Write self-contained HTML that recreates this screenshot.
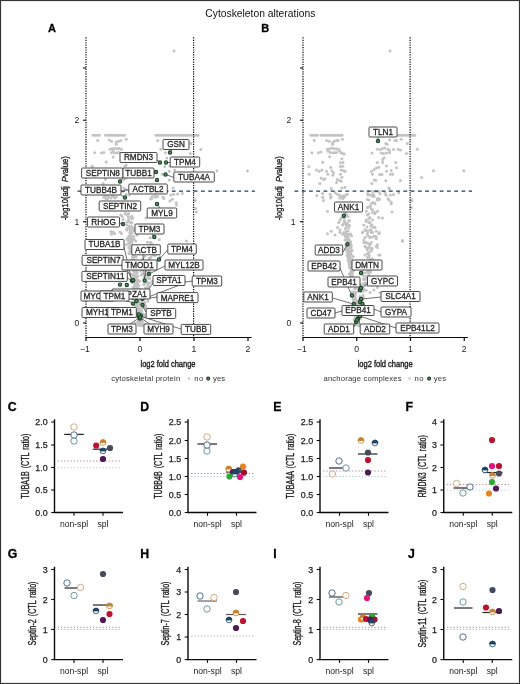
<!DOCTYPE html>
<html lang="en"><head><meta charset="utf-8"><title>Cytoskeleton alterations</title>
<style>
html,body{margin:0;padding:0;background:#fff;}
body{width:520px;height:684px;overflow:hidden;}
svg{display:block;font-family:'Liberation Sans', sans-serif;}
</style></head>
<body>
<svg width="520" height="684" viewBox="0 0 520 684">
<rect x="0" y="0" width="520" height="684" fill="#fff"/>
<text x="260.3" y="17.3" font-size="10.3" text-anchor="middle" font-weight="normal" fill="#111" textLength="110" lengthAdjust="spacingAndGlyphs">Cytoskeleton alterations</text>
<g fill="#c3c3c3"><circle cx="93.0" cy="135.3" r="1.5"/><circle cx="95.1" cy="135.3" r="1.5"/><circle cx="97.2" cy="135.3" r="1.5"/><circle cx="99.3" cy="135.3" r="1.5"/><circle cx="105.5" cy="135.3" r="1.5"/><circle cx="107.6" cy="135.3" r="1.5"/><circle cx="109.7" cy="135.3" r="1.5"/><circle cx="111.8" cy="135.3" r="1.5"/><circle cx="113.9" cy="135.3" r="1.5"/><circle cx="116.0" cy="135.3" r="1.5"/><circle cx="118.1" cy="135.3" r="1.5"/><circle cx="120.2" cy="135.3" r="1.5"/><circle cx="122.3" cy="135.3" r="1.5"/><circle cx="124.4" cy="135.3" r="1.5"/><circle cx="156.0" cy="135.3" r="1.5"/><circle cx="158.1" cy="135.3" r="1.5"/><circle cx="160.2" cy="135.3" r="1.5"/><circle cx="162.3" cy="135.3" r="1.5"/><circle cx="164.4" cy="135.3" r="1.5"/><circle cx="166.5" cy="135.3" r="1.5"/><circle cx="168.6" cy="135.3" r="1.5"/><circle cx="170.7" cy="135.3" r="1.5"/><circle cx="172.8" cy="135.3" r="1.5"/><circle cx="174.9" cy="135.3" r="1.5"/><circle cx="177.0" cy="135.3" r="1.5"/><circle cx="179.1" cy="135.3" r="1.5"/><circle cx="181.2" cy="135.3" r="1.5"/><circle cx="183.3" cy="135.3" r="1.5"/><circle cx="185.4" cy="135.3" r="1.5"/><circle cx="187.5" cy="135.3" r="1.5"/><circle cx="189.6" cy="135.3" r="1.5"/><circle cx="191.7" cy="135.3" r="1.5"/><circle cx="193.8" cy="135.3" r="1.5"/><circle cx="195.9" cy="135.3" r="1.5"/><circle cx="198.0" cy="135.3" r="1.5"/><circle cx="97.7" cy="140.4" r="1.5"/><circle cx="109.2" cy="139.9" r="1.5"/><circle cx="111.5" cy="141.2" r="1.5"/><circle cx="116.2" cy="141.9" r="1.5"/><circle cx="118.5" cy="141.2" r="1.5"/><circle cx="120.8" cy="140.4" r="1.5"/><circle cx="126.2" cy="139.2" r="1.5"/><circle cx="116.2" cy="144.2" r="1.5"/><circle cx="94.6" cy="152.7" r="1.5"/><circle cx="101.5" cy="153.0" r="1.5"/><circle cx="103.8" cy="152.4" r="1.5"/><circle cx="110.0" cy="149.3" r="1.5"/><circle cx="112.3" cy="148.8" r="1.5"/><circle cx="114.6" cy="148.4" r="1.5"/><circle cx="116.9" cy="148.8" r="1.5"/><circle cx="119.2" cy="148.4" r="1.5"/><circle cx="121.5" cy="149.3" r="1.5"/><circle cx="113.1" cy="151.2" r="1.5"/><circle cx="111.5" cy="152.7" r="1.5"/><circle cx="114.6" cy="153.0" r="1.5"/><circle cx="116.9" cy="152.7" r="1.5"/><circle cx="119.2" cy="152.4" r="1.5"/><circle cx="120.8" cy="153.5" r="1.5"/><circle cx="113.1" cy="157.0" r="1.5"/><circle cx="106.2" cy="161.9" r="1.5"/><circle cx="92.3" cy="166.2" r="1.5"/><circle cx="124.6" cy="166.2" r="1.5"/><circle cx="126.2" cy="165.0" r="1.5"/><circle cx="105.4" cy="179.2" r="1.5"/><circle cx="103.1" cy="183.5" r="1.5"/><circle cx="123.8" cy="179.6" r="1.5"/><circle cx="126.2" cy="178.1" r="1.5"/><circle cx="123.8" cy="188.1" r="1.5"/><circle cx="123.1" cy="191.2" r="1.5"/><circle cx="126.2" cy="189.6" r="1.5"/><circle cx="105.4" cy="196.5" r="1.5"/><circle cx="107.7" cy="198.5" r="1.5"/><circle cx="112.3" cy="196.5" r="1.5"/><circle cx="116.2" cy="197.3" r="1.5"/><circle cx="126.2" cy="194.2" r="1.5"/><circle cx="129.2" cy="195.0" r="1.5"/><circle cx="150.8" cy="198.8" r="1.5"/><circle cx="155.4" cy="197.3" r="1.5"/><circle cx="157.7" cy="140.4" r="1.5"/><circle cx="190.8" cy="143.5" r="1.5"/><circle cx="160.8" cy="149.3" r="1.5"/><circle cx="165.4" cy="152.7" r="1.5"/><circle cx="200.8" cy="149.6" r="1.5"/><circle cx="190.3" cy="153.5" r="1.5"/><circle cx="166.9" cy="158.1" r="1.5"/><circle cx="164.6" cy="166.5" r="1.5"/><circle cx="170.0" cy="166.2" r="1.5"/><circle cx="174.6" cy="169.9" r="1.5"/><circle cx="169.2" cy="171.2" r="1.5"/><circle cx="216.9" cy="170.7" r="1.5"/><circle cx="162.3" cy="174.2" r="1.5"/><circle cx="169.2" cy="180.1" r="1.5"/><circle cx="173.1" cy="188.1" r="1.5"/><circle cx="170.8" cy="195.0" r="1.5"/><circle cx="173.8" cy="194.2" r="1.5"/><circle cx="177.7" cy="193.9" r="1.5"/><circle cx="182.3" cy="193.5" r="1.5"/><circle cx="151.5" cy="198.8" r="1.5"/><circle cx="157.7" cy="196.5" r="1.5"/><circle cx="163.8" cy="198.5" r="1.5"/><circle cx="172.3" cy="199.2" r="1.5"/><circle cx="176.2" cy="202.7" r="1.5"/><circle cx="195.4" cy="200.4" r="1.5"/><circle cx="103.8" cy="197.3" r="1.5"/><circle cx="106.2" cy="198.8" r="1.5"/><circle cx="108.5" cy="196.5" r="1.5"/><circle cx="110.8" cy="198.1" r="1.5"/><circle cx="113.1" cy="195.8" r="1.5"/><circle cx="114.6" cy="198.1" r="1.5"/><circle cx="150.8" cy="198.8" r="1.5"/><circle cx="152.3" cy="196.5" r="1.5"/><circle cx="155.4" cy="195.8" r="1.5"/><circle cx="113.1" cy="231.9" r="1.5"/><circle cx="114.6" cy="233.5" r="1.5"/><circle cx="111.5" cy="234.2" r="1.5"/><circle cx="110.8" cy="231.6" r="1.5"/><circle cx="120.8" cy="215.0" r="1.5"/><circle cx="122.3" cy="216.5" r="1.5"/><circle cx="126.2" cy="214.2" r="1.5"/><circle cx="123.1" cy="219.6" r="1.5"/><circle cx="120.0" cy="231.9" r="1.5"/><circle cx="121.5" cy="233.5" r="1.5"/><circle cx="174.0" cy="51.0" r="1.5"/><circle cx="195.5" cy="208.5" r="1.5"/><circle cx="196.5" cy="212.0" r="1.5"/><circle cx="186.5" cy="241.0" r="1.5"/><circle cx="247.5" cy="171.0" r="1.5"/><circle cx="176.5" cy="205.0" r="1.5"/><circle cx="170.0" cy="201.0" r="1.5"/><circle cx="163.0" cy="197.0" r="1.5"/><circle cx="150.0" cy="210.0" r="1.5"/><circle cx="146.0" cy="218.0" r="1.5"/><circle cx="135.0" cy="260.9" r="1.5"/><circle cx="132.8" cy="227.9" r="1.5"/><circle cx="135.3" cy="283.4" r="1.5"/><circle cx="135.9" cy="280.5" r="1.5"/><circle cx="128.1" cy="221.7" r="1.5"/><circle cx="130.4" cy="230.8" r="1.5"/><circle cx="134.9" cy="272.0" r="1.5"/><circle cx="131.0" cy="249.0" r="1.5"/><circle cx="138.6" cy="292.4" r="1.5"/><circle cx="133.4" cy="269.0" r="1.5"/><circle cx="142.1" cy="324.0" r="1.5"/><circle cx="134.1" cy="257.0" r="1.5"/><circle cx="132.4" cy="238.7" r="1.5"/><circle cx="139.3" cy="309.9" r="1.5"/><circle cx="128.5" cy="243.6" r="1.5"/><circle cx="132.5" cy="266.3" r="1.5"/><circle cx="136.4" cy="284.6" r="1.5"/><circle cx="132.1" cy="246.9" r="1.5"/><circle cx="136.1" cy="297.4" r="1.5"/><circle cx="136.9" cy="288.3" r="1.5"/><circle cx="133.8" cy="275.0" r="1.5"/><circle cx="139.8" cy="299.1" r="1.5"/><circle cx="129.9" cy="251.6" r="1.5"/><circle cx="138.5" cy="315.1" r="1.5"/><circle cx="136.8" cy="302.0" r="1.5"/><circle cx="137.2" cy="235.0" r="1.5"/><circle cx="134.5" cy="271.3" r="1.5"/><circle cx="134.2" cy="278.7" r="1.5"/><circle cx="126.9" cy="222.0" r="1.5"/><circle cx="133.7" cy="287.1" r="1.5"/><circle cx="138.5" cy="315.2" r="1.5"/><circle cx="138.6" cy="289.2" r="1.5"/><circle cx="133.2" cy="287.8" r="1.5"/><circle cx="140.4" cy="321.2" r="1.5"/><circle cx="134.7" cy="277.1" r="1.5"/><circle cx="137.0" cy="299.4" r="1.5"/><circle cx="139.7" cy="294.3" r="1.5"/><circle cx="132.6" cy="256.4" r="1.5"/><circle cx="133.8" cy="267.8" r="1.5"/><circle cx="134.6" cy="275.9" r="1.5"/><circle cx="131.8" cy="241.9" r="1.5"/><circle cx="138.4" cy="305.5" r="1.5"/><circle cx="130.7" cy="236.6" r="1.5"/><circle cx="140.3" cy="314.8" r="1.5"/><circle cx="126.8" cy="229.2" r="1.5"/><circle cx="139.7" cy="315.9" r="1.5"/><circle cx="139.3" cy="310.2" r="1.5"/><circle cx="133.2" cy="271.0" r="1.5"/><circle cx="137.4" cy="264.8" r="1.5"/><circle cx="127.0" cy="239.6" r="1.5"/><circle cx="131.6" cy="243.0" r="1.5"/><circle cx="136.4" cy="278.3" r="1.5"/><circle cx="136.3" cy="288.7" r="1.5"/><circle cx="134.6" cy="271.4" r="1.5"/><circle cx="129.4" cy="266.0" r="1.5"/><circle cx="135.9" cy="298.4" r="1.5"/><circle cx="133.6" cy="281.4" r="1.5"/><circle cx="126.7" cy="224.8" r="1.5"/><circle cx="139.8" cy="317.3" r="1.5"/><circle cx="135.8" cy="308.2" r="1.5"/><circle cx="133.4" cy="268.5" r="1.5"/><circle cx="137.2" cy="293.0" r="1.5"/><circle cx="131.2" cy="226.2" r="1.5"/><circle cx="131.8" cy="241.2" r="1.5"/><circle cx="133.5" cy="262.8" r="1.5"/><circle cx="131.0" cy="239.7" r="1.5"/><circle cx="129.9" cy="232.5" r="1.5"/><circle cx="139.3" cy="315.1" r="1.5"/><circle cx="137.3" cy="291.1" r="1.5"/><circle cx="134.8" cy="263.6" r="1.5"/><circle cx="136.5" cy="265.4" r="1.5"/><circle cx="141.6" cy="325.4" r="1.5"/><circle cx="134.2" cy="276.3" r="1.5"/><circle cx="130.3" cy="232.6" r="1.5"/><circle cx="133.2" cy="263.1" r="1.5"/><circle cx="135.6" cy="241.0" r="1.5"/><circle cx="131.9" cy="218.8" r="1.5"/><circle cx="130.0" cy="239.0" r="1.5"/><circle cx="137.8" cy="284.1" r="1.5"/><circle cx="140.3" cy="324.2" r="1.5"/><circle cx="138.7" cy="314.1" r="1.5"/><circle cx="132.4" cy="265.7" r="1.5"/><circle cx="131.6" cy="241.8" r="1.5"/><circle cx="136.6" cy="306.5" r="1.5"/><circle cx="134.0" cy="261.6" r="1.5"/><circle cx="142.0" cy="324.7" r="1.5"/><circle cx="139.7" cy="313.2" r="1.5"/><circle cx="135.5" cy="302.9" r="1.5"/><circle cx="130.0" cy="249.5" r="1.5"/><circle cx="128.6" cy="220.0" r="1.5"/><circle cx="128.5" cy="219.8" r="1.5"/><circle cx="138.5" cy="298.5" r="1.5"/><circle cx="137.6" cy="322.3" r="1.5"/><circle cx="141.0" cy="325.0" r="1.5"/><circle cx="139.4" cy="322.1" r="1.5"/><circle cx="133.2" cy="249.5" r="1.5"/><circle cx="132.6" cy="245.7" r="1.5"/><circle cx="140.9" cy="317.4" r="1.5"/><circle cx="137.1" cy="312.1" r="1.5"/><circle cx="138.7" cy="308.4" r="1.5"/><circle cx="127.0" cy="229.9" r="1.5"/><circle cx="135.8" cy="306.8" r="1.5"/><circle cx="137.1" cy="303.9" r="1.5"/><circle cx="138.4" cy="307.4" r="1.5"/><circle cx="135.1" cy="261.9" r="1.5"/><circle cx="129.3" cy="268.9" r="1.5"/><circle cx="137.1" cy="269.5" r="1.5"/><circle cx="130.0" cy="242.2" r="1.5"/><circle cx="133.7" cy="236.3" r="1.5"/><circle cx="140.7" cy="309.0" r="1.5"/><circle cx="134.0" cy="238.9" r="1.5"/><circle cx="133.3" cy="295.2" r="1.5"/><circle cx="132.6" cy="263.9" r="1.5"/><circle cx="128.1" cy="216.7" r="1.5"/><circle cx="139.3" cy="323.5" r="1.5"/><circle cx="138.6" cy="320.3" r="1.5"/><circle cx="137.0" cy="272.9" r="1.5"/><circle cx="128.8" cy="247.5" r="1.5"/><circle cx="132.0" cy="252.5" r="1.5"/><circle cx="137.4" cy="288.4" r="1.5"/><circle cx="131.5" cy="253.4" r="1.5"/><circle cx="139.8" cy="318.2" r="1.5"/><circle cx="131.1" cy="264.3" r="1.5"/><circle cx="139.8" cy="317.7" r="1.5"/><circle cx="136.4" cy="271.5" r="1.5"/><circle cx="134.7" cy="283.0" r="1.5"/><circle cx="137.4" cy="282.2" r="1.5"/><circle cx="131.8" cy="243.9" r="1.5"/><circle cx="128.7" cy="213.8" r="1.5"/><circle cx="134.0" cy="277.1" r="1.5"/><circle cx="136.5" cy="301.6" r="1.5"/><circle cx="135.0" cy="281.6" r="1.5"/><circle cx="136.1" cy="285.3" r="1.5"/><circle cx="135.2" cy="285.8" r="1.5"/><circle cx="131.7" cy="252.1" r="1.5"/><circle cx="138.3" cy="280.6" r="1.5"/><circle cx="136.2" cy="286.0" r="1.5"/><circle cx="130.7" cy="273.9" r="1.5"/><circle cx="134.7" cy="290.9" r="1.5"/><circle cx="137.3" cy="298.6" r="1.5"/><circle cx="132.8" cy="274.9" r="1.5"/><circle cx="139.5" cy="321.0" r="1.5"/><circle cx="139.9" cy="299.2" r="1.5"/><circle cx="128.9" cy="253.5" r="1.5"/><circle cx="138.9" cy="285.8" r="1.5"/><circle cx="129.2" cy="237.7" r="1.5"/><circle cx="129.7" cy="235.5" r="1.5"/><circle cx="132.5" cy="251.2" r="1.5"/><circle cx="127.6" cy="228.0" r="1.5"/><circle cx="137.6" cy="317.1" r="1.5"/><circle cx="130.3" cy="240.1" r="1.5"/><circle cx="127.4" cy="238.5" r="1.5"/><circle cx="140.0" cy="315.8" r="1.5"/><circle cx="139.7" cy="321.9" r="1.5"/><circle cx="128.4" cy="269.2" r="1.5"/><circle cx="139.0" cy="311.4" r="1.5"/><circle cx="128.6" cy="241.0" r="1.5"/><circle cx="134.5" cy="262.7" r="1.5"/><circle cx="130.1" cy="245.5" r="1.5"/><circle cx="132.6" cy="217.9" r="1.5"/><circle cx="135.6" cy="285.2" r="1.5"/><circle cx="133.5" cy="261.8" r="1.5"/><circle cx="136.1" cy="292.0" r="1.5"/><circle cx="140.2" cy="324.7" r="1.5"/><circle cx="138.9" cy="307.4" r="1.5"/><circle cx="132.4" cy="254.2" r="1.5"/><circle cx="129.5" cy="222.1" r="1.5"/><circle cx="128.8" cy="236.6" r="1.5"/><circle cx="137.4" cy="271.7" r="1.5"/><circle cx="130.4" cy="253.3" r="1.5"/><circle cx="133.7" cy="239.4" r="1.5"/><circle cx="136.5" cy="299.3" r="1.5"/><circle cx="133.6" cy="230.6" r="1.5"/><circle cx="135.5" cy="272.0" r="1.5"/><circle cx="133.1" cy="227.9" r="1.5"/><circle cx="137.8" cy="308.6" r="1.5"/><circle cx="130.5" cy="229.7" r="1.5"/><circle cx="138.7" cy="314.1" r="1.5"/><circle cx="133.6" cy="275.0" r="1.5"/><circle cx="140.8" cy="319.7" r="1.5"/><circle cx="134.4" cy="254.4" r="1.5"/><circle cx="134.2" cy="250.9" r="1.5"/><circle cx="130.8" cy="233.7" r="1.5"/><circle cx="132.3" cy="246.3" r="1.5"/><circle cx="132.0" cy="259.6" r="1.5"/><circle cx="136.2" cy="257.0" r="1.5"/><circle cx="136.0" cy="279.8" r="1.5"/><circle cx="130.9" cy="217.6" r="1.5"/><circle cx="135.9" cy="252.4" r="1.5"/><circle cx="136.1" cy="284.9" r="1.5"/><circle cx="126.2" cy="244.7" r="1.5"/><circle cx="131.2" cy="233.2" r="1.5"/><circle cx="137.3" cy="310.1" r="1.5"/><circle cx="139.4" cy="311.5" r="1.5"/><circle cx="131.2" cy="268.6" r="1.5"/><circle cx="140.1" cy="324.5" r="1.5"/><circle cx="135.1" cy="263.1" r="1.5"/><circle cx="134.7" cy="293.2" r="1.5"/><circle cx="133.9" cy="269.8" r="1.5"/><circle cx="131.3" cy="236.7" r="1.5"/><circle cx="129.6" cy="227.6" r="1.5"/><circle cx="129.4" cy="241.3" r="1.5"/><circle cx="132.7" cy="229.9" r="1.5"/><circle cx="134.6" cy="296.5" r="1.5"/><circle cx="132.9" cy="256.1" r="1.5"/><circle cx="136.4" cy="275.6" r="1.5"/><circle cx="129.3" cy="240.5" r="1.5"/><circle cx="140.2" cy="322.7" r="1.5"/><circle cx="139.3" cy="323.7" r="1.5"/><circle cx="139.8" cy="323.1" r="1.5"/><circle cx="133.1" cy="259.3" r="1.5"/><circle cx="134.1" cy="267.4" r="1.5"/><circle cx="133.9" cy="277.2" r="1.5"/><circle cx="135.4" cy="280.3" r="1.5"/><circle cx="128.1" cy="214.1" r="1.5"/><circle cx="135.0" cy="269.3" r="1.5"/><circle cx="131.4" cy="222.5" r="1.5"/><circle cx="132.4" cy="250.2" r="1.5"/><circle cx="133.6" cy="288.3" r="1.5"/><circle cx="136.5" cy="295.2" r="1.5"/><circle cx="138.6" cy="300.7" r="1.5"/><circle cx="131.9" cy="261.2" r="1.5"/><circle cx="141.2" cy="324.7" r="1.5"/><circle cx="138.8" cy="293.9" r="1.5"/><circle cx="132.0" cy="222.9" r="1.5"/><circle cx="133.9" cy="292.4" r="1.5"/><circle cx="138.1" cy="302.4" r="1.5"/><circle cx="134.7" cy="282.2" r="1.5"/><circle cx="137.0" cy="280.2" r="1.5"/><circle cx="136.7" cy="310.8" r="1.5"/><circle cx="138.1" cy="288.2" r="1.5"/><circle cx="136.0" cy="298.6" r="1.5"/><circle cx="133.3" cy="249.9" r="1.5"/><circle cx="133.9" cy="265.1" r="1.5"/><circle cx="131.9" cy="233.0" r="1.5"/><circle cx="135.0" cy="292.4" r="1.5"/><circle cx="135.9" cy="292.3" r="1.5"/><circle cx="125.2" cy="213.6" r="1.5"/><circle cx="138.4" cy="308.2" r="1.5"/><circle cx="133.7" cy="283.3" r="1.5"/><circle cx="139.2" cy="295.4" r="1.5"/><circle cx="133.8" cy="252.6" r="1.5"/><circle cx="129.4" cy="228.2" r="1.5"/><circle cx="135.4" cy="246.8" r="1.5"/><circle cx="139.4" cy="302.9" r="1.5"/><circle cx="133.7" cy="267.5" r="1.5"/><circle cx="133.9" cy="277.6" r="1.5"/><circle cx="134.2" cy="291.4" r="1.5"/><circle cx="137.6" cy="293.8" r="1.5"/><circle cx="133.0" cy="252.8" r="1.5"/><circle cx="137.3" cy="303.3" r="1.5"/><circle cx="131.8" cy="216.3" r="1.5"/><circle cx="129.1" cy="225.9" r="1.5"/><circle cx="139.5" cy="298.5" r="1.5"/><circle cx="136.7" cy="297.0" r="1.5"/><circle cx="137.0" cy="276.2" r="1.5"/><circle cx="137.8" cy="276.3" r="1.5"/><circle cx="135.0" cy="246.0" r="1.5"/><circle cx="140.3" cy="324.1" r="1.5"/><circle cx="134.7" cy="275.6" r="1.5"/><circle cx="143.2" cy="314.3" r="1.5"/><circle cx="148.1" cy="271.9" r="1.5"/><circle cx="151.7" cy="266.2" r="1.5"/><circle cx="143.8" cy="297.6" r="1.5"/><circle cx="142.8" cy="258.9" r="1.5"/><circle cx="149.8" cy="257.9" r="1.5"/><circle cx="138.0" cy="314.3" r="1.5"/><circle cx="142.6" cy="306.3" r="1.5"/><circle cx="152.1" cy="268.3" r="1.5"/><circle cx="151.0" cy="242.8" r="1.5"/><circle cx="150.2" cy="237.7" r="1.5"/><circle cx="148.3" cy="274.9" r="1.5"/><circle cx="149.3" cy="258.8" r="1.5"/><circle cx="142.4" cy="315.7" r="1.5"/><circle cx="154.6" cy="237.1" r="1.5"/><circle cx="144.8" cy="256.4" r="1.5"/><circle cx="139.6" cy="321.3" r="1.5"/><circle cx="142.4" cy="273.8" r="1.5"/><circle cx="139.5" cy="281.1" r="1.5"/><circle cx="149.1" cy="298.1" r="1.5"/><circle cx="145.4" cy="280.1" r="1.5"/><circle cx="154.2" cy="246.8" r="1.5"/><circle cx="153.1" cy="254.2" r="1.5"/><circle cx="139.2" cy="321.9" r="1.5"/><circle cx="148.7" cy="270.0" r="1.5"/><circle cx="153.8" cy="264.1" r="1.5"/><circle cx="152.4" cy="281.2" r="1.5"/><circle cx="140.6" cy="313.8" r="1.5"/><circle cx="147.9" cy="301.2" r="1.5"/><circle cx="142.0" cy="295.2" r="1.5"/><circle cx="145.5" cy="307.5" r="1.5"/><circle cx="147.2" cy="287.5" r="1.5"/><circle cx="141.3" cy="309.8" r="1.5"/><circle cx="150.6" cy="246.9" r="1.5"/><circle cx="141.4" cy="321.3" r="1.5"/><circle cx="149.8" cy="278.6" r="1.5"/><circle cx="147.7" cy="274.5" r="1.5"/><circle cx="140.8" cy="271.1" r="1.5"/><circle cx="142.6" cy="303.0" r="1.5"/><circle cx="150.0" cy="282.9" r="1.5"/><circle cx="151.6" cy="261.7" r="1.5"/><circle cx="141.4" cy="320.0" r="1.5"/><circle cx="146.4" cy="291.2" r="1.5"/><circle cx="142.3" cy="325.8" r="1.5"/><circle cx="147.1" cy="287.5" r="1.5"/><circle cx="153.7" cy="252.8" r="1.5"/><circle cx="149.3" cy="278.5" r="1.5"/><circle cx="150.0" cy="270.9" r="1.5"/><circle cx="147.2" cy="296.7" r="1.5"/><circle cx="143.8" cy="284.4" r="1.5"/><circle cx="144.1" cy="284.5" r="1.5"/><circle cx="147.2" cy="278.1" r="1.5"/><circle cx="151.0" cy="248.9" r="1.5"/><circle cx="159.9" cy="257.1" r="1.5"/><circle cx="142.1" cy="291.7" r="1.5"/><circle cx="145.1" cy="266.8" r="1.5"/><circle cx="148.7" cy="272.1" r="1.5"/><circle cx="148.6" cy="287.1" r="1.5"/><circle cx="141.6" cy="323.1" r="1.5"/><circle cx="147.4" cy="242.2" r="1.5"/><circle cx="151.4" cy="244.1" r="1.5"/><circle cx="140.8" cy="289.3" r="1.5"/><circle cx="146.4" cy="298.0" r="1.5"/><circle cx="140.3" cy="321.3" r="1.5"/><circle cx="144.1" cy="314.7" r="1.5"/><circle cx="142.7" cy="270.0" r="1.5"/><circle cx="153.9" cy="255.1" r="1.5"/><circle cx="145.0" cy="304.9" r="1.5"/><circle cx="139.8" cy="322.3" r="1.5"/><circle cx="139.6" cy="310.6" r="1.5"/><circle cx="145.3" cy="288.0" r="1.5"/><circle cx="141.8" cy="311.8" r="1.5"/><circle cx="153.1" cy="268.4" r="1.5"/><circle cx="146.2" cy="275.1" r="1.5"/><circle cx="151.1" cy="257.3" r="1.5"/><circle cx="145.6" cy="306.0" r="1.5"/><circle cx="155.2" cy="255.5" r="1.5"/><circle cx="145.4" cy="297.7" r="1.5"/><circle cx="147.5" cy="282.4" r="1.5"/><circle cx="159.4" cy="239.7" r="1.5"/><circle cx="141.2" cy="274.9" r="1.5"/><circle cx="144.8" cy="302.2" r="1.5"/><circle cx="139.7" cy="318.5" r="1.5"/><circle cx="149.4" cy="269.8" r="1.5"/><circle cx="139.6" cy="323.5" r="1.5"/><circle cx="150.6" cy="242.2" r="1.5"/><circle cx="144.3" cy="291.3" r="1.5"/><circle cx="146.1" cy="270.8" r="1.5"/><circle cx="144.5" cy="303.8" r="1.5"/><circle cx="152.1" cy="244.5" r="1.5"/><circle cx="144.0" cy="278.1" r="1.5"/><circle cx="152.1" cy="265.0" r="1.5"/><circle cx="141.6" cy="312.8" r="1.5"/><circle cx="146.1" cy="265.7" r="1.5"/><circle cx="138.9" cy="324.1" r="1.5"/><circle cx="154.5" cy="268.2" r="1.5"/><circle cx="149.6" cy="267.3" r="1.5"/><circle cx="138.8" cy="322.9" r="1.5"/><circle cx="146.1" cy="291.1" r="1.5"/><circle cx="148.2" cy="284.8" r="1.5"/><circle cx="144.3" cy="303.7" r="1.5"/><circle cx="146.4" cy="282.8" r="1.5"/><circle cx="151.3" cy="266.5" r="1.5"/><circle cx="152.5" cy="247.3" r="1.5"/><circle cx="146.6" cy="248.6" r="1.5"/><circle cx="142.8" cy="318.5" r="1.5"/><circle cx="146.7" cy="308.4" r="1.5"/><circle cx="147.7" cy="277.4" r="1.5"/><circle cx="154.9" cy="263.7" r="1.5"/><circle cx="151.0" cy="244.1" r="1.5"/><circle cx="137.9" cy="313.9" r="1.5"/><circle cx="142.0" cy="301.9" r="1.5"/><circle cx="142.4" cy="296.1" r="1.5"/><circle cx="140.0" cy="302.7" r="1.5"/><circle cx="145.5" cy="324.4" r="1.5"/><circle cx="145.4" cy="297.5" r="1.5"/><circle cx="142.4" cy="302.8" r="1.5"/><circle cx="135.0" cy="305.6" r="1.5"/><circle cx="137.1" cy="291.8" r="1.5"/><circle cx="140.5" cy="323.1" r="1.5"/><circle cx="135.8" cy="296.9" r="1.5"/><circle cx="144.8" cy="291.1" r="1.5"/><circle cx="141.9" cy="304.8" r="1.5"/><circle cx="135.3" cy="291.5" r="1.5"/><circle cx="146.2" cy="291.3" r="1.5"/><circle cx="142.6" cy="299.3" r="1.5"/><circle cx="142.2" cy="316.9" r="1.5"/><circle cx="138.4" cy="299.8" r="1.5"/><circle cx="138.3" cy="324.5" r="1.5"/><circle cx="138.4" cy="315.8" r="1.5"/><circle cx="140.0" cy="301.4" r="1.5"/><circle cx="140.3" cy="317.2" r="1.5"/><circle cx="135.2" cy="323.0" r="1.5"/><circle cx="134.6" cy="290.9" r="1.5"/><circle cx="132.6" cy="298.4" r="1.5"/><circle cx="141.2" cy="324.3" r="1.5"/><circle cx="140.0" cy="303.9" r="1.5"/><circle cx="143.2" cy="307.8" r="1.5"/><circle cx="142.2" cy="323.4" r="1.5"/><circle cx="144.9" cy="316.6" r="1.5"/><circle cx="140.6" cy="319.6" r="1.5"/><circle cx="135.9" cy="301.8" r="1.5"/><circle cx="136.6" cy="301.5" r="1.5"/><circle cx="144.0" cy="292.8" r="1.5"/><circle cx="140.0" cy="297.1" r="1.5"/><circle cx="137.7" cy="292.3" r="1.5"/><circle cx="137.5" cy="291.2" r="1.5"/><circle cx="139.1" cy="325.3" r="1.5"/><circle cx="142.3" cy="321.8" r="1.5"/><circle cx="139.8" cy="293.0" r="1.5"/></g>
<line x1="86" y1="37.3" x2="86" y2="337.5" stroke="#000" stroke-width="1.2" stroke-dasharray="1.2 1.22"/>
<line x1="193.6" y1="37.3" x2="193.6" y2="337.5" stroke="#000" stroke-width="1.2" stroke-dasharray="1.2 1.22"/>
<line x1="77.5" y1="191.1" x2="255" y2="191.1" stroke="#1b3a68" stroke-width="1.4" stroke-dasharray="3.8 3.46"/>
<line x1="85.4" y1="337.5" x2="251.5" y2="337.5" stroke="#0a0a0a" stroke-width="1.2"/>
<line x1="86" y1="337.5" x2="86" y2="341" stroke="#0a0a0a" stroke-width="1.2"/>
<text x="84.8" y="352.2" font-size="8.6" text-anchor="middle" font-weight="normal" fill="#1c1c1c">−1</text>
<line x1="140" y1="337.5" x2="140" y2="341" stroke="#0a0a0a" stroke-width="1.2"/>
<text x="140" y="352.2" font-size="8.6" text-anchor="middle" font-weight="normal" fill="#1c1c1c">0</text>
<line x1="194" y1="337.5" x2="194" y2="341" stroke="#0a0a0a" stroke-width="1.2"/>
<text x="194" y="352.2" font-size="8.6" text-anchor="middle" font-weight="normal" fill="#1c1c1c">1</text>
<line x1="248" y1="337.5" x2="248" y2="341" stroke="#0a0a0a" stroke-width="1.2"/>
<text x="248" y="352.2" font-size="8.6" text-anchor="middle" font-weight="normal" fill="#1c1c1c">2</text>
<line x1="83" y1="323" x2="86" y2="323" stroke="#0a0a0a" stroke-width="1.1"/>
<text x="79.2" y="326.1" font-size="8.6" text-anchor="end" font-weight="normal" fill="#1c1c1c">0</text>
<line x1="83" y1="221.7" x2="86" y2="221.7" stroke="#0a0a0a" stroke-width="1.1"/>
<text x="79.2" y="224.79999999999998" font-size="8.6" text-anchor="end" font-weight="normal" fill="#1c1c1c">1</text>
<line x1="83" y1="120.2" x2="86" y2="120.2" stroke="#0a0a0a" stroke-width="1.1"/>
<text x="79.2" y="123.3" font-size="8.6" text-anchor="end" font-weight="normal" fill="#1c1c1c">2</text>
<line x1="83" y1="68" x2="86" y2="68" stroke="#0a0a0a" stroke-width="1.1"/>
<text x="168" y="366.8" font-size="9.6" text-anchor="middle" font-weight="normal" fill="#1c1c1c" textLength="55" lengthAdjust="spacingAndGlyphs" stroke="#1c1c1c" stroke-width="0.4">log2 fold change</text>
<text transform="translate(68 188.2) rotate(-90)" font-size="9.4" text-anchor="middle" fill="#1c1c1c" stroke="#1c1c1c" stroke-width="0.35" textLength="64" lengthAdjust="spacingAndGlyphs">-log10(adj <tspan font-style="italic" dx="2.5">P</tspan>value)</text>
<path d="M167.5 250.0L159.0 259.5M165.0 266.0L149.0 274.0M124.0 247.0L131.5 279.5M123.0 262.0L132.5 280.5M143.0 255.0L144.5 280.5M146.0 270.0L144.5 280.0M127.0 278.0L133.0 281.0M153.0 283.0L142.5 298.5M192.5 281.0L185.0 282.0M185.0 283.0L143.0 299.0M157.0 297.0L143.0 299.0M146.0 312.0L142.5 305.5M181.0 329.0L141.5 316.5M150.0 324.0L140.5 318.0M130.0 324.0L139.0 318.0M129.0 298.0L136.0 301.0M136.0 311.0L139.0 316.0M113.0 297.0L134.0 303.0M174.0 177.5L165.5 174.5M170.0 152.5L172.0 149.5M123.0 178.0L120.0 181.5M121.0 195.0L125.0 197.5M157.0 204.0L160.0 208.0M119.5 223.0L123.0 224.0M154.0 237.0L152.0 234.0M170.0 162.5L166.0 162.5M157.0 160.0L160.0 162.5M154.0 173.0L156.0 172.0M129.0 190.0L124.0 190.0" stroke="#333" stroke-width="0.7" fill="none"/>
<g fill="#5a9f6b" stroke="#1d4028" stroke-width="1.2"><circle cx="170.0" cy="152.5" r="1.6"/><circle cx="160.0" cy="162.5" r="1.6"/><circle cx="166.0" cy="162.5" r="1.6"/><circle cx="156.0" cy="172.0" r="1.6"/><circle cx="165.5" cy="174.5" r="1.6"/><circle cx="120.0" cy="181.5" r="1.6"/><circle cx="157.0" cy="180.0" r="1.6"/><circle cx="125.0" cy="197.5" r="1.6"/><circle cx="157.0" cy="204.0" r="1.6"/><circle cx="123.0" cy="224.0" r="1.6"/><circle cx="154.3" cy="237.0" r="1.6"/><circle cx="159.0" cy="259.5" r="1.6"/><circle cx="149.0" cy="274.0" r="1.6"/><circle cx="132.0" cy="280.8" r="1.6"/><circle cx="133.2" cy="280.2" r="1.6"/><circle cx="144.6" cy="280.6" r="1.6"/><circle cx="120.0" cy="284.6" r="1.6"/><circle cx="126.8" cy="285.0" r="1.6"/><circle cx="142.5" cy="298.8" r="1.6"/><circle cx="136.5" cy="301.0" r="1.6"/><circle cx="133.0" cy="303.6" r="1.6"/><circle cx="142.5" cy="305.0" r="1.6"/><circle cx="138.6" cy="316.6" r="1.6"/><circle cx="140.9" cy="315.6" r="1.6"/><circle cx="139.8" cy="318.6" r="1.6"/><circle cx="140.0" cy="317.2" r="1.6"/><circle cx="138.8" cy="314.5" r="1.6"/></g>
<rect x="120.0" y="152.5" width="37.0" height="10" rx="1" ry="1" fill="#fff" stroke="#2c2c2c" stroke-width="0.85"/>
<text x="138.5" y="160.4" font-size="8.2" text-anchor="middle" fill="#1e1e1e" stroke="#1e1e1e" stroke-width="0.28">RMDN3</text>
<rect x="81.6" y="168.0" width="41.4" height="10" rx="1" ry="1" fill="#fff" stroke="#2c2c2c" stroke-width="0.85"/>
<text x="102.8" y="175.9" font-size="8.2" text-anchor="middle" fill="#1e1e1e" stroke="#1e1e1e" stroke-width="0.28">SEPTIN8</text>
<rect x="123.0" y="168.0" width="31.0" height="10" rx="1" ry="1" fill="#fff" stroke="#2c2c2c" stroke-width="0.85"/>
<text x="138.5" y="175.9" font-size="8.2" text-anchor="middle" fill="#1e1e1e" stroke="#1e1e1e" stroke-width="0.28">TUBB1</text>
<rect x="81.0" y="185.0" width="40.0" height="10" rx="1" ry="1" fill="#fff" stroke="#2c2c2c" stroke-width="0.85"/>
<text x="101.0" y="192.9" font-size="8.2" text-anchor="middle" fill="#1e1e1e" stroke="#1e1e1e" stroke-width="0.28">TUBB4B</text>
<rect x="128.8" y="184.0" width="38.5" height="10" rx="1" ry="1" fill="#fff" stroke="#2c2c2c" stroke-width="0.85"/>
<text x="148.0" y="191.9" font-size="8.2" text-anchor="middle" fill="#1e1e1e" stroke="#1e1e1e" stroke-width="0.28">ACTBL2</text>
<rect x="99.2" y="201.0" width="41.5" height="10" rx="1" ry="1" fill="#fff" stroke="#2c2c2c" stroke-width="0.85"/>
<text x="120.0" y="208.9" font-size="8.2" text-anchor="middle" fill="#1e1e1e" stroke="#1e1e1e" stroke-width="0.28">SEPTIN2</text>
<rect x="147.2" y="208.0" width="29.5" height="10" rx="1" ry="1" fill="#fff" stroke="#2c2c2c" stroke-width="0.85"/>
<text x="162.0" y="215.9" font-size="8.2" text-anchor="middle" fill="#1e1e1e" stroke="#1e1e1e" stroke-width="0.28">MYL9</text>
<rect x="87.5" y="217.0" width="32.0" height="10" rx="1" ry="1" fill="#fff" stroke="#2c2c2c" stroke-width="0.85"/>
<text x="103.5" y="224.9" font-size="8.2" text-anchor="middle" fill="#1e1e1e" stroke="#1e1e1e" stroke-width="0.28">RHOG</text>
<rect x="135.0" y="224.0" width="29.0" height="10" rx="1" ry="1" fill="#fff" stroke="#2c2c2c" stroke-width="0.85"/>
<text x="149.5" y="231.9" font-size="8.2" text-anchor="middle" fill="#1e1e1e" stroke="#1e1e1e" stroke-width="0.28">TPM3</text>
<rect x="163.0" y="139.5" width="26.0" height="10" rx="1" ry="1" fill="#fff" stroke="#2c2c2c" stroke-width="0.85"/>
<text x="176.0" y="147.4" font-size="8.2" text-anchor="middle" fill="#1e1e1e" stroke="#1e1e1e" stroke-width="0.28">GSN</text>
<rect x="170.2" y="157.0" width="29.5" height="10" rx="1" ry="1" fill="#fff" stroke="#2c2c2c" stroke-width="0.85"/>
<text x="185.0" y="164.9" font-size="8.2" text-anchor="middle" fill="#1e1e1e" stroke="#1e1e1e" stroke-width="0.28">TPM4</text>
<rect x="173.8" y="172.0" width="40.5" height="10" rx="1" ry="1" fill="#fff" stroke="#2c2c2c" stroke-width="0.85"/>
<text x="194.0" y="179.9" font-size="8.2" text-anchor="middle" fill="#1e1e1e" stroke="#1e1e1e" stroke-width="0.28">TUBA4A</text>
<rect x="85.0" y="239.5" width="39.0" height="10" rx="1" ry="1" fill="#fff" stroke="#2c2c2c" stroke-width="0.85"/>
<text x="104.5" y="247.4" font-size="8.2" text-anchor="middle" fill="#1e1e1e" stroke="#1e1e1e" stroke-width="0.28">TUBA1B</text>
<rect x="131.8" y="244.8" width="28.5" height="10" rx="1" ry="1" fill="#fff" stroke="#2c2c2c" stroke-width="0.85"/>
<text x="146.0" y="252.8" font-size="8.2" text-anchor="middle" fill="#1e1e1e" stroke="#1e1e1e" stroke-width="0.28">ACTB</text>
<rect x="167.8" y="244.0" width="28.5" height="10" rx="1" ry="1" fill="#fff" stroke="#2c2c2c" stroke-width="0.85"/>
<text x="182.0" y="251.9" font-size="8.2" text-anchor="middle" fill="#1e1e1e" stroke="#1e1e1e" stroke-width="0.28">TPM4</text>
<rect x="82.1" y="255.3" width="41.0" height="10" rx="1" ry="1" fill="#fff" stroke="#2c2c2c" stroke-width="0.85"/>
<text x="103.5" y="263.2" font-size="8.2" text-anchor="middle" fill="#1e1e1e" stroke="#1e1e1e" stroke-width="0.28">SEPTIN7</text>
<rect x="122.0" y="260.0" width="35.0" height="10" rx="1" ry="1" fill="#fff" stroke="#2c2c2c" stroke-width="0.85"/>
<text x="139.5" y="267.9" font-size="8.2" text-anchor="middle" fill="#1e1e1e" stroke="#1e1e1e" stroke-width="0.28">TMOD1</text>
<rect x="165.0" y="260.0" width="38.0" height="10" rx="1" ry="1" fill="#fff" stroke="#2c2c2c" stroke-width="0.85"/>
<text x="184.0" y="267.9" font-size="8.2" text-anchor="middle" fill="#1e1e1e" stroke="#1e1e1e" stroke-width="0.28">MYL12B</text>
<rect x="81.9" y="271.4" width="45.4" height="10" rx="1" ry="1" fill="#fff" stroke="#2c2c2c" stroke-width="0.85"/>
<text x="105.4" y="279.3" font-size="8.2" text-anchor="middle" fill="#1e1e1e" stroke="#1e1e1e" stroke-width="0.28">SEPTIN11</text>
<rect x="153.0" y="275.5" width="32.0" height="10" rx="1" ry="1" fill="#fff" stroke="#2c2c2c" stroke-width="0.85"/>
<text x="169.0" y="283.4" font-size="8.2" text-anchor="middle" fill="#1e1e1e" stroke="#1e1e1e" stroke-width="0.28">SPTA1</text>
<rect x="192.2" y="276.0" width="29.5" height="10" rx="1" ry="1" fill="#fff" stroke="#2c2c2c" stroke-width="0.85"/>
<text x="207.0" y="283.9" font-size="8.2" text-anchor="middle" fill="#1e1e1e" stroke="#1e1e1e" stroke-width="0.28">TPM3</text>
<rect x="112.0" y="289.0" width="38.0" height="10" rx="1" ry="1" fill="#fff" stroke="#2c2c2c" stroke-width="0.85"/>
<text x="131.0" y="296.9" font-size="8.2" text-anchor="middle" fill="#1e1e1e" stroke="#1e1e1e" stroke-width="0.28">CAPZA1</text>
<rect x="81.0" y="291.0" width="33.0" height="10" rx="1" ry="1" fill="#fff" stroke="#2c2c2c" stroke-width="0.85"/>
<text x="97.5" y="298.9" font-size="8.2" text-anchor="middle" fill="#1e1e1e" stroke="#1e1e1e" stroke-width="0.28">MYO1F</text>
<rect x="100.0" y="291.0" width="29.0" height="10" rx="1" ry="1" fill="#fff" stroke="#2c2c2c" stroke-width="0.85"/>
<text x="114.5" y="298.9" font-size="8.2" text-anchor="middle" fill="#1e1e1e" stroke="#1e1e1e" stroke-width="0.28">TPM1</text>
<rect x="157.0" y="292.6" width="41.0" height="10" rx="1" ry="1" fill="#fff" stroke="#2c2c2c" stroke-width="0.85"/>
<text x="177.5" y="300.6" font-size="8.2" text-anchor="middle" fill="#1e1e1e" stroke="#1e1e1e" stroke-width="0.28">MAPRE1</text>
<rect x="82.0" y="307.5" width="35.5" height="10" rx="1" ry="1" fill="#fff" stroke="#2c2c2c" stroke-width="0.85"/>
<text x="99.7" y="315.4" font-size="8.2" text-anchor="middle" fill="#1e1e1e" stroke="#1e1e1e" stroke-width="0.28">MYH10</text>
<rect x="107.8" y="307.5" width="28.5" height="10" rx="1" ry="1" fill="#fff" stroke="#2c2c2c" stroke-width="0.85"/>
<text x="122.0" y="315.4" font-size="8.2" text-anchor="middle" fill="#1e1e1e" stroke="#1e1e1e" stroke-width="0.28">TPM1</text>
<rect x="146.2" y="308.5" width="29.5" height="10" rx="1" ry="1" fill="#fff" stroke="#2c2c2c" stroke-width="0.85"/>
<text x="161.0" y="316.4" font-size="8.2" text-anchor="middle" fill="#1e1e1e" stroke="#1e1e1e" stroke-width="0.28">SPTB</text>
<rect x="108.0" y="324.0" width="28.0" height="10" rx="1" ry="1" fill="#fff" stroke="#2c2c2c" stroke-width="0.85"/>
<text x="122.0" y="331.9" font-size="8.2" text-anchor="middle" fill="#1e1e1e" stroke="#1e1e1e" stroke-width="0.28">TPM3</text>
<rect x="144.0" y="324.0" width="29.0" height="10" rx="1" ry="1" fill="#fff" stroke="#2c2c2c" stroke-width="0.85"/>
<text x="158.5" y="331.9" font-size="8.2" text-anchor="middle" fill="#1e1e1e" stroke="#1e1e1e" stroke-width="0.28">MYH9</text>
<rect x="181.2" y="324.4" width="29.5" height="10" rx="1" ry="1" fill="#fff" stroke="#2c2c2c" stroke-width="0.85"/>
<text x="196.0" y="332.3" font-size="8.2" text-anchor="middle" fill="#1e1e1e" stroke="#1e1e1e" stroke-width="0.28">TUBB</text>
<text x="111.2" y="381.3" font-size="7.7" text-anchor="start" font-weight="normal" fill="#333" textLength="69" lengthAdjust="spacing">cytoskeletal protein</text>
<circle cx="189" cy="378.6" r="1.25" fill="#c6c6c6"/>
<text x="194.2" y="381.3" font-size="7.7" text-anchor="start" font-weight="normal" fill="#333" textLength="9" lengthAdjust="spacing">no</text>
<circle cx="208.2" cy="378.6" r="1.5" fill="#4f9460" stroke="#1d4028" stroke-width="1.1"/>
<text x="213" y="381.3" font-size="7.7" text-anchor="start" font-weight="normal" fill="#333" textLength="12.2" lengthAdjust="spacing">yes</text>
<text x="48" y="32" font-size="11" text-anchor="start" font-weight="bold" fill="#000" stroke="#000" stroke-width="0.3">A</text>
<g fill="#c3c3c3"><circle cx="311.0" cy="135.3" r="1.5"/><circle cx="313.1" cy="135.3" r="1.5"/><circle cx="315.2" cy="135.3" r="1.5"/><circle cx="317.3" cy="135.3" r="1.5"/><circle cx="321.0" cy="135.3" r="1.5"/><circle cx="323.1" cy="135.3" r="1.5"/><circle cx="325.2" cy="135.3" r="1.5"/><circle cx="327.3" cy="135.3" r="1.5"/><circle cx="329.4" cy="135.3" r="1.5"/><circle cx="331.5" cy="135.3" r="1.5"/><circle cx="333.6" cy="135.3" r="1.5"/><circle cx="335.7" cy="135.3" r="1.5"/><circle cx="337.8" cy="135.3" r="1.5"/><circle cx="339.9" cy="135.3" r="1.5"/><circle cx="342.0" cy="135.3" r="1.5"/><circle cx="398.0" cy="135.3" r="1.5"/><circle cx="400.1" cy="135.3" r="1.5"/><circle cx="402.2" cy="135.3" r="1.5"/><circle cx="404.3" cy="135.3" r="1.5"/><circle cx="406.4" cy="135.3" r="1.5"/><circle cx="408.5" cy="135.3" r="1.5"/><circle cx="410.6" cy="135.3" r="1.5"/><circle cx="412.7" cy="135.3" r="1.5"/><circle cx="414.8" cy="135.3" r="1.5"/><circle cx="314.2" cy="140.4" r="1.5"/><circle cx="326.5" cy="140.4" r="1.5"/><circle cx="329.2" cy="141.2" r="1.5"/><circle cx="332.7" cy="142.7" r="1.5"/><circle cx="334.2" cy="141.2" r="1.5"/><circle cx="336.5" cy="140.4" r="1.5"/><circle cx="338.1" cy="140.4" r="1.5"/><circle cx="342.4" cy="139.2" r="1.5"/><circle cx="332.7" cy="144.2" r="1.5"/><circle cx="311.9" cy="152.7" r="1.5"/><circle cx="318.4" cy="152.7" r="1.5"/><circle cx="320.8" cy="151.9" r="1.5"/><circle cx="327.3" cy="149.3" r="1.5"/><circle cx="329.6" cy="148.8" r="1.5"/><circle cx="331.9" cy="148.1" r="1.5"/><circle cx="334.2" cy="148.8" r="1.5"/><circle cx="336.5" cy="148.8" r="1.5"/><circle cx="338.8" cy="149.6" r="1.5"/><circle cx="328.1" cy="151.2" r="1.5"/><circle cx="330.4" cy="152.4" r="1.5"/><circle cx="332.7" cy="152.7" r="1.5"/><circle cx="335.0" cy="152.7" r="1.5"/><circle cx="336.5" cy="152.4" r="1.5"/><circle cx="339.6" cy="151.2" r="1.5"/><circle cx="341.2" cy="152.7" r="1.5"/><circle cx="342.7" cy="153.5" r="1.5"/><circle cx="344.2" cy="153.9" r="1.5"/><circle cx="329.6" cy="156.8" r="1.5"/><circle cx="341.9" cy="158.8" r="1.5"/><circle cx="322.7" cy="162.2" r="1.5"/><circle cx="340.4" cy="162.7" r="1.5"/><circle cx="343.0" cy="162.4" r="1.5"/><circle cx="308.8" cy="166.8" r="1.5"/><circle cx="330.7" cy="167.6" r="1.5"/><circle cx="340.4" cy="166.5" r="1.5"/><circle cx="342.7" cy="166.2" r="1.5"/><circle cx="316.5" cy="170.1" r="1.5"/><circle cx="319.2" cy="171.2" r="1.5"/><circle cx="321.9" cy="170.1" r="1.5"/><circle cx="326.5" cy="171.2" r="1.5"/><circle cx="331.9" cy="170.7" r="1.5"/><circle cx="341.2" cy="170.1" r="1.5"/><circle cx="343.5" cy="170.7" r="1.5"/><circle cx="345.0" cy="171.2" r="1.5"/><circle cx="309.2" cy="174.2" r="1.5"/><circle cx="327.8" cy="174.2" r="1.5"/><circle cx="333.5" cy="172.7" r="1.5"/><circle cx="332.7" cy="175.3" r="1.5"/><circle cx="340.4" cy="174.2" r="1.5"/><circle cx="341.9" cy="177.3" r="1.5"/><circle cx="321.2" cy="178.1" r="1.5"/><circle cx="323.5" cy="179.6" r="1.5"/><circle cx="325.0" cy="178.8" r="1.5"/><circle cx="337.3" cy="179.6" r="1.5"/><circle cx="339.6" cy="180.4" r="1.5"/><circle cx="336.5" cy="182.4" r="1.5"/><circle cx="319.9" cy="183.5" r="1.5"/><circle cx="341.2" cy="181.2" r="1.5"/><circle cx="331.2" cy="188.4" r="1.5"/><circle cx="341.9" cy="188.1" r="1.5"/><circle cx="345.0" cy="187.3" r="1.5"/><circle cx="316.8" cy="195.5" r="1.5"/><circle cx="322.7" cy="193.5" r="1.5"/><circle cx="330.1" cy="194.2" r="1.5"/><circle cx="331.2" cy="196.5" r="1.5"/><circle cx="335.0" cy="192.7" r="1.5"/><circle cx="337.3" cy="194.2" r="1.5"/><circle cx="339.6" cy="195.0" r="1.5"/><circle cx="341.2" cy="196.5" r="1.5"/><circle cx="343.5" cy="195.8" r="1.5"/><circle cx="345.8" cy="195.0" r="1.5"/><circle cx="347.3" cy="194.2" r="1.5"/><circle cx="322.7" cy="197.3" r="1.5"/><circle cx="323.5" cy="200.4" r="1.5"/><circle cx="330.4" cy="198.1" r="1.5"/><circle cx="339.6" cy="198.1" r="1.5"/><circle cx="342.7" cy="198.8" r="1.5"/><circle cx="344.2" cy="197.3" r="1.5"/><circle cx="389.6" cy="140.1" r="1.5"/><circle cx="395.0" cy="140.4" r="1.5"/><circle cx="396.5" cy="140.4" r="1.5"/><circle cx="401.2" cy="139.3" r="1.5"/><circle cx="407.3" cy="143.5" r="1.5"/><circle cx="387.3" cy="144.2" r="1.5"/><circle cx="385.8" cy="143.5" r="1.5"/><circle cx="377.3" cy="149.3" r="1.5"/><circle cx="380.4" cy="149.6" r="1.5"/><circle cx="382.7" cy="148.4" r="1.5"/><circle cx="385.0" cy="148.1" r="1.5"/><circle cx="388.1" cy="149.3" r="1.5"/><circle cx="389.6" cy="150.4" r="1.5"/><circle cx="393.5" cy="149.6" r="1.5"/><circle cx="398.1" cy="149.2" r="1.5"/><circle cx="400.4" cy="149.9" r="1.5"/><circle cx="417.3" cy="149.3" r="1.5"/><circle cx="371.9" cy="153.0" r="1.5"/><circle cx="381.2" cy="153.0" r="1.5"/><circle cx="383.5" cy="153.5" r="1.5"/><circle cx="386.5" cy="153.0" r="1.5"/><circle cx="389.6" cy="152.7" r="1.5"/><circle cx="406.5" cy="153.5" r="1.5"/><circle cx="384.2" cy="157.8" r="1.5"/><circle cx="382.7" cy="159.6" r="1.5"/><circle cx="377.3" cy="162.4" r="1.5"/><circle cx="382.7" cy="162.4" r="1.5"/><circle cx="395.8" cy="162.4" r="1.5"/><circle cx="386.5" cy="166.1" r="1.5"/><circle cx="378.8" cy="167.3" r="1.5"/><circle cx="376.5" cy="168.1" r="1.5"/><circle cx="374.2" cy="169.6" r="1.5"/><circle cx="396.5" cy="167.8" r="1.5"/><circle cx="371.5" cy="171.2" r="1.5"/><circle cx="386.5" cy="171.2" r="1.5"/><circle cx="391.2" cy="170.4" r="1.5"/><circle cx="433.5" cy="170.8" r="1.5"/><circle cx="372.4" cy="174.2" r="1.5"/><circle cx="379.6" cy="174.5" r="1.5"/><circle cx="381.9" cy="174.5" r="1.5"/><circle cx="390.4" cy="174.2" r="1.5"/><circle cx="392.7" cy="174.2" r="1.5"/><circle cx="421.6" cy="177.6" r="1.5"/><circle cx="374.2" cy="179.9" r="1.5"/><circle cx="375.8" cy="180.4" r="1.5"/><circle cx="385.8" cy="180.7" r="1.5"/><circle cx="400.4" cy="180.4" r="1.5"/><circle cx="371.9" cy="183.5" r="1.5"/><circle cx="388.8" cy="188.1" r="1.5"/><circle cx="389.6" cy="188.8" r="1.5"/><circle cx="368.1" cy="191.2" r="1.5"/><circle cx="372.7" cy="191.5" r="1.5"/><circle cx="375.8" cy="191.2" r="1.5"/><circle cx="378.8" cy="191.5" r="1.5"/><circle cx="368.1" cy="195.0" r="1.5"/><circle cx="372.7" cy="194.2" r="1.5"/><circle cx="374.2" cy="196.5" r="1.5"/><circle cx="385.8" cy="195.0" r="1.5"/><circle cx="390.4" cy="195.0" r="1.5"/><circle cx="393.5" cy="194.5" r="1.5"/><circle cx="398.8" cy="192.7" r="1.5"/><circle cx="367.3" cy="199.6" r="1.5"/><circle cx="378.8" cy="198.8" r="1.5"/><circle cx="388.1" cy="198.8" r="1.5"/><circle cx="391.2" cy="201.9" r="1.5"/><circle cx="374.2" cy="202.7" r="1.5"/><circle cx="371.2" cy="203.8" r="1.5"/><circle cx="411.9" cy="200.4" r="1.5"/><circle cx="327.5" cy="211.2" r="1.5"/><circle cx="367.5" cy="207.5" r="1.5"/><circle cx="370.0" cy="206.2" r="1.5"/><circle cx="372.5" cy="210.0" r="1.5"/><circle cx="375.0" cy="212.5" r="1.5"/><circle cx="377.5" cy="211.2" r="1.5"/><circle cx="340.0" cy="220.0" r="1.5"/><circle cx="338.8" cy="222.5" r="1.5"/><circle cx="342.5" cy="225.0" r="1.5"/><circle cx="337.5" cy="227.5" r="1.5"/><circle cx="340.0" cy="230.0" r="1.5"/><circle cx="343.8" cy="232.5" r="1.5"/><circle cx="346.2" cy="233.8" r="1.5"/><circle cx="347.5" cy="237.5" r="1.5"/><circle cx="345.0" cy="240.0" r="1.5"/><circle cx="346.2" cy="243.8" r="1.5"/><circle cx="347.5" cy="247.5" r="1.5"/><circle cx="367.5" cy="215.0" r="1.5"/><circle cx="370.0" cy="217.5" r="1.5"/><circle cx="366.2" cy="220.0" r="1.5"/><circle cx="368.8" cy="222.5" r="1.5"/><circle cx="371.2" cy="225.0" r="1.5"/><circle cx="372.5" cy="220.0" r="1.5"/><circle cx="375.0" cy="227.5" r="1.5"/><circle cx="365.0" cy="230.0" r="1.5"/><circle cx="367.5" cy="232.5" r="1.5"/><circle cx="370.0" cy="230.0" r="1.5"/><circle cx="372.5" cy="232.5" r="1.5"/><circle cx="362.5" cy="232.5" r="1.5"/><circle cx="365.0" cy="237.5" r="1.5"/><circle cx="370.0" cy="237.5" r="1.5"/><circle cx="373.8" cy="236.2" r="1.5"/><circle cx="376.2" cy="231.2" r="1.5"/><circle cx="373.8" cy="195.0" r="1.5"/><circle cx="377.5" cy="200.0" r="1.5"/><circle cx="380.0" cy="193.8" r="1.5"/><circle cx="385.0" cy="192.5" r="1.5"/><circle cx="367.5" cy="193.8" r="1.5"/><circle cx="370.0" cy="195.0" r="1.5"/><circle cx="372.5" cy="196.2" r="1.5"/><circle cx="368.8" cy="200.0" r="1.5"/><circle cx="372.5" cy="202.5" r="1.5"/><circle cx="375.0" cy="203.8" r="1.5"/><circle cx="370.0" cy="206.2" r="1.5"/><circle cx="367.5" cy="207.5" r="1.5"/><circle cx="371.2" cy="208.8" r="1.5"/><circle cx="366.2" cy="211.2" r="1.5"/><circle cx="368.8" cy="213.8" r="1.5"/><circle cx="372.5" cy="212.5" r="1.5"/><circle cx="375.0" cy="213.8" r="1.5"/><circle cx="377.5" cy="198.8" r="1.5"/><circle cx="379.5" cy="199.5" r="1.5"/><circle cx="386.2" cy="195.0" r="1.5"/><circle cx="388.8" cy="200.0" r="1.5"/><circle cx="391.2" cy="203.8" r="1.5"/><circle cx="392.0" cy="212.0" r="1.5"/><circle cx="378.8" cy="217.5" r="1.5"/><circle cx="382.5" cy="218.0" r="1.5"/><circle cx="368.8" cy="218.8" r="1.5"/><circle cx="366.2" cy="221.2" r="1.5"/><circle cx="370.0" cy="222.5" r="1.5"/><circle cx="363.8" cy="225.0" r="1.5"/><circle cx="371.2" cy="226.2" r="1.5"/><circle cx="373.8" cy="227.5" r="1.5"/><circle cx="365.0" cy="230.0" r="1.5"/><circle cx="367.5" cy="231.2" r="1.5"/><circle cx="371.2" cy="230.0" r="1.5"/><circle cx="368.8" cy="236.2" r="1.5"/><circle cx="371.2" cy="237.5" r="1.5"/><circle cx="376.2" cy="237.0" r="1.5"/><circle cx="379.5" cy="232.5" r="1.5"/><circle cx="363.8" cy="240.0" r="1.5"/><circle cx="366.2" cy="242.5" r="1.5"/><circle cx="368.8" cy="243.8" r="1.5"/><circle cx="371.2" cy="242.5" r="1.5"/><circle cx="365.0" cy="246.2" r="1.5"/><circle cx="368.8" cy="247.5" r="1.5"/><circle cx="377.5" cy="244.5" r="1.5"/><circle cx="402.5" cy="241.2" r="1.5"/><circle cx="411.2" cy="200.0" r="1.5"/><circle cx="411.2" cy="207.5" r="1.5"/><circle cx="327.5" cy="233.8" r="1.5"/><circle cx="331.2" cy="231.2" r="1.5"/><circle cx="335.0" cy="235.0" r="1.5"/><circle cx="340.0" cy="232.5" r="1.5"/><circle cx="345.0" cy="233.8" r="1.5"/><circle cx="347.5" cy="236.2" r="1.5"/><circle cx="346.2" cy="231.2" r="1.5"/><circle cx="362.5" cy="232.5" r="1.5"/><circle cx="367.5" cy="235.0" r="1.5"/><circle cx="371.2" cy="232.5" r="1.5"/><circle cx="375.0" cy="236.2" r="1.5"/><circle cx="378.8" cy="233.8" r="1.5"/><circle cx="376.2" cy="238.8" r="1.5"/><circle cx="363.8" cy="242.5" r="1.5"/><circle cx="366.2" cy="247.5" r="1.5"/><circle cx="368.8" cy="252.5" r="1.5"/><circle cx="365.0" cy="255.0" r="1.5"/><circle cx="367.5" cy="257.5" r="1.5"/><circle cx="370.0" cy="245.0" r="1.5"/><circle cx="377.5" cy="247.5" r="1.5"/><circle cx="380.0" cy="255.0" r="1.5"/><circle cx="376.2" cy="246.2" r="1.5"/><circle cx="378.8" cy="255.0" r="1.5"/><circle cx="377.5" cy="287.5" r="1.5"/><circle cx="373.8" cy="290.0" r="1.5"/><circle cx="370.0" cy="292.5" r="1.5"/><circle cx="380.0" cy="292.5" r="1.5"/><circle cx="390.0" cy="51.0" r="1.5"/><circle cx="402.5" cy="240.5" r="1.5"/><circle cx="463.8" cy="170.8" r="1.5"/><circle cx="344.4" cy="233.4" r="1.5"/><circle cx="352.0" cy="275.2" r="1.5"/><circle cx="347.3" cy="251.7" r="1.5"/><circle cx="355.2" cy="297.3" r="1.5"/><circle cx="356.1" cy="304.1" r="1.5"/><circle cx="345.6" cy="237.0" r="1.5"/><circle cx="355.5" cy="312.3" r="1.5"/><circle cx="353.2" cy="267.5" r="1.5"/><circle cx="355.2" cy="303.2" r="1.5"/><circle cx="350.9" cy="253.0" r="1.5"/><circle cx="350.3" cy="241.4" r="1.5"/><circle cx="349.1" cy="262.4" r="1.5"/><circle cx="353.3" cy="269.9" r="1.5"/><circle cx="349.4" cy="251.4" r="1.5"/><circle cx="353.5" cy="309.5" r="1.5"/><circle cx="342.6" cy="234.3" r="1.5"/><circle cx="353.5" cy="278.1" r="1.5"/><circle cx="354.7" cy="318.7" r="1.5"/><circle cx="346.3" cy="224.1" r="1.5"/><circle cx="349.8" cy="246.2" r="1.5"/><circle cx="355.0" cy="323.7" r="1.5"/><circle cx="349.3" cy="267.4" r="1.5"/><circle cx="355.3" cy="314.6" r="1.5"/><circle cx="355.6" cy="306.8" r="1.5"/><circle cx="357.9" cy="321.4" r="1.5"/><circle cx="354.9" cy="292.3" r="1.5"/><circle cx="348.6" cy="249.7" r="1.5"/><circle cx="349.9" cy="248.0" r="1.5"/><circle cx="347.7" cy="254.2" r="1.5"/><circle cx="347.5" cy="247.9" r="1.5"/><circle cx="344.4" cy="217.9" r="1.5"/><circle cx="351.4" cy="245.6" r="1.5"/><circle cx="351.3" cy="260.8" r="1.5"/><circle cx="355.5" cy="285.3" r="1.5"/><circle cx="348.7" cy="228.1" r="1.5"/><circle cx="353.9" cy="285.5" r="1.5"/><circle cx="354.6" cy="294.1" r="1.5"/><circle cx="354.9" cy="299.3" r="1.5"/><circle cx="351.3" cy="271.4" r="1.5"/><circle cx="357.8" cy="322.0" r="1.5"/><circle cx="349.0" cy="260.8" r="1.5"/><circle cx="351.0" cy="272.1" r="1.5"/><circle cx="357.2" cy="314.4" r="1.5"/><circle cx="349.0" cy="247.1" r="1.5"/><circle cx="354.9" cy="302.3" r="1.5"/><circle cx="356.5" cy="317.6" r="1.5"/><circle cx="352.4" cy="272.8" r="1.5"/><circle cx="355.2" cy="316.0" r="1.5"/><circle cx="352.3" cy="276.7" r="1.5"/><circle cx="353.3" cy="285.7" r="1.5"/><circle cx="354.5" cy="294.2" r="1.5"/><circle cx="353.5" cy="292.5" r="1.5"/><circle cx="350.2" cy="267.2" r="1.5"/><circle cx="350.1" cy="257.5" r="1.5"/><circle cx="353.4" cy="282.7" r="1.5"/><circle cx="352.1" cy="279.6" r="1.5"/><circle cx="356.3" cy="309.2" r="1.5"/><circle cx="347.8" cy="237.8" r="1.5"/><circle cx="358.0" cy="321.2" r="1.5"/><circle cx="346.5" cy="226.4" r="1.5"/><circle cx="354.9" cy="319.7" r="1.5"/><circle cx="355.7" cy="292.3" r="1.5"/><circle cx="356.8" cy="310.9" r="1.5"/><circle cx="352.1" cy="250.2" r="1.5"/><circle cx="353.2" cy="270.8" r="1.5"/><circle cx="345.9" cy="245.3" r="1.5"/><circle cx="347.5" cy="249.7" r="1.5"/><circle cx="352.4" cy="268.6" r="1.5"/><circle cx="348.1" cy="237.3" r="1.5"/><circle cx="358.2" cy="317.3" r="1.5"/><circle cx="343.3" cy="224.2" r="1.5"/><circle cx="345.2" cy="223.7" r="1.5"/><circle cx="357.0" cy="312.1" r="1.5"/><circle cx="354.4" cy="285.5" r="1.5"/><circle cx="353.3" cy="292.9" r="1.5"/><circle cx="354.8" cy="288.7" r="1.5"/><circle cx="350.8" cy="273.0" r="1.5"/><circle cx="350.5" cy="274.3" r="1.5"/><circle cx="344.4" cy="220.7" r="1.5"/><circle cx="348.1" cy="251.8" r="1.5"/><circle cx="355.4" cy="305.5" r="1.5"/><circle cx="346.7" cy="244.9" r="1.5"/><circle cx="352.9" cy="277.9" r="1.5"/><circle cx="352.3" cy="273.5" r="1.5"/><circle cx="345.3" cy="232.7" r="1.5"/><circle cx="347.5" cy="224.2" r="1.5"/><circle cx="355.8" cy="293.8" r="1.5"/><circle cx="356.3" cy="306.7" r="1.5"/><circle cx="354.3" cy="281.7" r="1.5"/><circle cx="351.9" cy="268.0" r="1.5"/><circle cx="358.2" cy="321.8" r="1.5"/><circle cx="358.8" cy="325.7" r="1.5"/><circle cx="355.2" cy="302.6" r="1.5"/><circle cx="356.5" cy="324.5" r="1.5"/><circle cx="355.7" cy="279.8" r="1.5"/><circle cx="347.5" cy="243.0" r="1.5"/><circle cx="355.8" cy="307.7" r="1.5"/><circle cx="350.7" cy="265.1" r="1.5"/><circle cx="356.5" cy="304.8" r="1.5"/><circle cx="353.2" cy="256.5" r="1.5"/><circle cx="356.5" cy="310.1" r="1.5"/><circle cx="357.6" cy="319.2" r="1.5"/><circle cx="349.0" cy="248.5" r="1.5"/><circle cx="352.6" cy="261.5" r="1.5"/><circle cx="347.1" cy="223.4" r="1.5"/><circle cx="357.3" cy="320.6" r="1.5"/><circle cx="355.0" cy="297.8" r="1.5"/><circle cx="354.9" cy="307.4" r="1.5"/><circle cx="345.1" cy="236.1" r="1.5"/><circle cx="350.6" cy="266.0" r="1.5"/><circle cx="354.8" cy="315.1" r="1.5"/><circle cx="355.8" cy="316.0" r="1.5"/><circle cx="350.5" cy="234.6" r="1.5"/><circle cx="351.3" cy="269.7" r="1.5"/><circle cx="355.1" cy="308.5" r="1.5"/><circle cx="357.6" cy="288.2" r="1.5"/><circle cx="351.2" cy="266.1" r="1.5"/><circle cx="346.7" cy="244.5" r="1.5"/><circle cx="357.2" cy="303.7" r="1.5"/><circle cx="350.7" cy="254.0" r="1.5"/><circle cx="355.7" cy="294.1" r="1.5"/><circle cx="354.0" cy="296.4" r="1.5"/><circle cx="350.9" cy="260.8" r="1.5"/><circle cx="348.4" cy="240.9" r="1.5"/><circle cx="352.2" cy="291.9" r="1.5"/><circle cx="356.9" cy="317.1" r="1.5"/><circle cx="348.5" cy="238.5" r="1.5"/><circle cx="349.3" cy="220.5" r="1.5"/><circle cx="345.0" cy="215.3" r="1.5"/><circle cx="351.6" cy="265.7" r="1.5"/><circle cx="347.3" cy="250.5" r="1.5"/><circle cx="347.9" cy="248.0" r="1.5"/><circle cx="353.1" cy="292.6" r="1.5"/><circle cx="356.8" cy="320.6" r="1.5"/><circle cx="350.1" cy="252.8" r="1.5"/><circle cx="354.4" cy="294.0" r="1.5"/><circle cx="356.4" cy="315.0" r="1.5"/><circle cx="348.1" cy="255.3" r="1.5"/><circle cx="344.2" cy="217.9" r="1.5"/><circle cx="349.2" cy="265.0" r="1.5"/><circle cx="351.1" cy="294.7" r="1.5"/><circle cx="355.9" cy="302.8" r="1.5"/><circle cx="350.1" cy="253.4" r="1.5"/><circle cx="352.6" cy="283.7" r="1.5"/><circle cx="351.6" cy="271.0" r="1.5"/><circle cx="355.7" cy="306.9" r="1.5"/><circle cx="341.1" cy="218.1" r="1.5"/><circle cx="346.8" cy="239.9" r="1.5"/><circle cx="347.3" cy="247.4" r="1.5"/><circle cx="353.0" cy="294.3" r="1.5"/><circle cx="356.1" cy="309.9" r="1.5"/><circle cx="351.7" cy="259.4" r="1.5"/><circle cx="349.6" cy="225.6" r="1.5"/><circle cx="353.3" cy="301.1" r="1.5"/><circle cx="347.9" cy="216.5" r="1.5"/><circle cx="350.1" cy="277.1" r="1.5"/><circle cx="354.1" cy="303.5" r="1.5"/><circle cx="348.2" cy="234.7" r="1.5"/><circle cx="351.1" cy="251.5" r="1.5"/><circle cx="355.3" cy="304.2" r="1.5"/><circle cx="355.7" cy="299.3" r="1.5"/><circle cx="347.6" cy="255.5" r="1.5"/><circle cx="350.8" cy="285.9" r="1.5"/><circle cx="353.8" cy="282.9" r="1.5"/><circle cx="347.0" cy="255.4" r="1.5"/><circle cx="345.6" cy="249.6" r="1.5"/><circle cx="357.1" cy="315.8" r="1.5"/><circle cx="349.7" cy="251.9" r="1.5"/><circle cx="356.9" cy="303.7" r="1.5"/><circle cx="349.7" cy="262.4" r="1.5"/><circle cx="355.9" cy="315.8" r="1.5"/><circle cx="357.2" cy="318.1" r="1.5"/><circle cx="353.2" cy="293.3" r="1.5"/><circle cx="355.7" cy="324.2" r="1.5"/><circle cx="353.5" cy="277.5" r="1.5"/><circle cx="354.6" cy="313.8" r="1.5"/><circle cx="351.6" cy="274.2" r="1.5"/><circle cx="348.2" cy="260.3" r="1.5"/><circle cx="348.7" cy="249.0" r="1.5"/><circle cx="356.2" cy="318.4" r="1.5"/><circle cx="349.2" cy="240.3" r="1.5"/><circle cx="356.8" cy="320.0" r="1.5"/><circle cx="351.1" cy="264.4" r="1.5"/><circle cx="347.0" cy="224.3" r="1.5"/><circle cx="353.1" cy="299.0" r="1.5"/><circle cx="353.5" cy="303.1" r="1.5"/><circle cx="345.4" cy="228.5" r="1.5"/><circle cx="355.1" cy="310.3" r="1.5"/><circle cx="356.0" cy="310.5" r="1.5"/><circle cx="355.9" cy="314.7" r="1.5"/><circle cx="357.0" cy="318.7" r="1.5"/><circle cx="348.8" cy="248.2" r="1.5"/><circle cx="351.6" cy="235.7" r="1.5"/><circle cx="356.1" cy="309.8" r="1.5"/><circle cx="354.8" cy="293.6" r="1.5"/><circle cx="348.0" cy="258.0" r="1.5"/><circle cx="350.4" cy="233.9" r="1.5"/><circle cx="350.9" cy="248.1" r="1.5"/><circle cx="350.2" cy="261.6" r="1.5"/><circle cx="350.0" cy="254.4" r="1.5"/><circle cx="349.8" cy="257.4" r="1.5"/><circle cx="349.0" cy="261.7" r="1.5"/><circle cx="355.0" cy="323.0" r="1.5"/><circle cx="353.7" cy="292.1" r="1.5"/><circle cx="344.5" cy="222.3" r="1.5"/><circle cx="355.9" cy="306.3" r="1.5"/><circle cx="350.3" cy="264.6" r="1.5"/><circle cx="347.1" cy="249.6" r="1.5"/><circle cx="357.8" cy="314.2" r="1.5"/><circle cx="350.6" cy="243.7" r="1.5"/><circle cx="346.8" cy="214.8" r="1.5"/><circle cx="358.8" cy="324.1" r="1.5"/><circle cx="343.2" cy="215.9" r="1.5"/><circle cx="355.6" cy="308.5" r="1.5"/><circle cx="347.1" cy="245.5" r="1.5"/><circle cx="355.8" cy="311.6" r="1.5"/><circle cx="351.2" cy="254.8" r="1.5"/><circle cx="348.7" cy="249.3" r="1.5"/><circle cx="353.9" cy="299.7" r="1.5"/><circle cx="353.9" cy="293.8" r="1.5"/><circle cx="348.1" cy="231.0" r="1.5"/><circle cx="353.6" cy="307.6" r="1.5"/><circle cx="353.0" cy="293.0" r="1.5"/><circle cx="352.7" cy="269.8" r="1.5"/><circle cx="358.3" cy="316.7" r="1.5"/><circle cx="348.6" cy="221.1" r="1.5"/><circle cx="348.8" cy="248.3" r="1.5"/><circle cx="355.8" cy="280.7" r="1.5"/><circle cx="352.1" cy="268.1" r="1.5"/><circle cx="351.4" cy="276.7" r="1.5"/><circle cx="352.9" cy="283.7" r="1.5"/><circle cx="351.8" cy="294.7" r="1.5"/><circle cx="350.4" cy="264.8" r="1.5"/><circle cx="356.5" cy="312.5" r="1.5"/><circle cx="354.1" cy="296.2" r="1.5"/><circle cx="350.9" cy="274.4" r="1.5"/><circle cx="354.7" cy="306.4" r="1.5"/><circle cx="351.8" cy="276.8" r="1.5"/><circle cx="356.3" cy="316.2" r="1.5"/><circle cx="351.5" cy="259.6" r="1.5"/><circle cx="355.0" cy="300.0" r="1.5"/><circle cx="347.5" cy="241.8" r="1.5"/><circle cx="348.7" cy="253.3" r="1.5"/><circle cx="350.6" cy="242.5" r="1.5"/><circle cx="352.4" cy="262.6" r="1.5"/><circle cx="358.0" cy="302.3" r="1.5"/><circle cx="348.6" cy="234.2" r="1.5"/><circle cx="351.1" cy="268.7" r="1.5"/><circle cx="357.6" cy="324.6" r="1.5"/><circle cx="349.4" cy="274.0" r="1.5"/><circle cx="369.2" cy="255.3" r="1.5"/><circle cx="369.0" cy="256.5" r="1.5"/><circle cx="368.7" cy="275.6" r="1.5"/><circle cx="359.9" cy="310.3" r="1.5"/><circle cx="358.6" cy="302.5" r="1.5"/><circle cx="365.1" cy="282.7" r="1.5"/><circle cx="367.7" cy="248.5" r="1.5"/><circle cx="359.3" cy="306.3" r="1.5"/><circle cx="356.1" cy="319.2" r="1.5"/><circle cx="361.1" cy="307.0" r="1.5"/><circle cx="366.3" cy="278.8" r="1.5"/><circle cx="360.5" cy="317.1" r="1.5"/><circle cx="358.8" cy="308.9" r="1.5"/><circle cx="358.0" cy="301.4" r="1.5"/><circle cx="360.4" cy="298.2" r="1.5"/><circle cx="362.6" cy="297.1" r="1.5"/><circle cx="365.5" cy="242.4" r="1.5"/><circle cx="362.3" cy="304.1" r="1.5"/><circle cx="362.2" cy="297.2" r="1.5"/><circle cx="367.5" cy="281.9" r="1.5"/><circle cx="359.9" cy="296.6" r="1.5"/><circle cx="358.6" cy="320.9" r="1.5"/><circle cx="367.3" cy="253.7" r="1.5"/><circle cx="363.2" cy="275.7" r="1.5"/><circle cx="365.2" cy="285.1" r="1.5"/><circle cx="363.5" cy="289.9" r="1.5"/><circle cx="371.3" cy="250.9" r="1.5"/><circle cx="359.2" cy="287.7" r="1.5"/><circle cx="366.7" cy="242.9" r="1.5"/><circle cx="359.7" cy="304.4" r="1.5"/><circle cx="361.7" cy="287.1" r="1.5"/><circle cx="361.0" cy="288.0" r="1.5"/><circle cx="367.5" cy="277.7" r="1.5"/><circle cx="360.9" cy="301.8" r="1.5"/><circle cx="366.5" cy="276.0" r="1.5"/><circle cx="356.0" cy="324.9" r="1.5"/><circle cx="368.9" cy="272.4" r="1.5"/><circle cx="366.9" cy="276.7" r="1.5"/><circle cx="367.0" cy="227.1" r="1.5"/><circle cx="361.9" cy="302.9" r="1.5"/><circle cx="367.0" cy="272.1" r="1.5"/><circle cx="361.5" cy="306.4" r="1.5"/><circle cx="356.3" cy="321.6" r="1.5"/><circle cx="359.2" cy="311.1" r="1.5"/><circle cx="366.7" cy="276.0" r="1.5"/><circle cx="360.6" cy="309.1" r="1.5"/><circle cx="358.1" cy="311.7" r="1.5"/><circle cx="361.6" cy="291.5" r="1.5"/><circle cx="372.3" cy="258.7" r="1.5"/><circle cx="361.6" cy="298.0" r="1.5"/><circle cx="359.8" cy="312.4" r="1.5"/><circle cx="365.8" cy="266.2" r="1.5"/><circle cx="366.2" cy="290.3" r="1.5"/><circle cx="370.3" cy="272.3" r="1.5"/><circle cx="358.5" cy="314.9" r="1.5"/><circle cx="371.7" cy="261.8" r="1.5"/><circle cx="365.8" cy="279.2" r="1.5"/><circle cx="360.8" cy="304.8" r="1.5"/><circle cx="368.7" cy="264.8" r="1.5"/><circle cx="366.6" cy="284.2" r="1.5"/><circle cx="363.6" cy="279.5" r="1.5"/><circle cx="364.4" cy="273.1" r="1.5"/><circle cx="357.7" cy="320.8" r="1.5"/><circle cx="358.6" cy="313.1" r="1.5"/><circle cx="358.0" cy="319.0" r="1.5"/><circle cx="358.1" cy="313.4" r="1.5"/><circle cx="362.4" cy="297.5" r="1.5"/><circle cx="357.1" cy="322.5" r="1.5"/><circle cx="361.7" cy="299.4" r="1.5"/><circle cx="371.3" cy="248.6" r="1.5"/><circle cx="370.1" cy="259.6" r="1.5"/><circle cx="367.4" cy="249.9" r="1.5"/><circle cx="358.0" cy="318.9" r="1.5"/><circle cx="357.2" cy="317.9" r="1.5"/><circle cx="363.1" cy="295.4" r="1.5"/><circle cx="355.8" cy="318.1" r="1.5"/><circle cx="360.2" cy="310.0" r="1.5"/><circle cx="360.1" cy="302.4" r="1.5"/><circle cx="363.7" cy="288.8" r="1.5"/><circle cx="356.6" cy="317.3" r="1.5"/><circle cx="363.3" cy="290.9" r="1.5"/><circle cx="372.1" cy="248.2" r="1.5"/><circle cx="366.7" cy="285.4" r="1.5"/><circle cx="371.1" cy="248.8" r="1.5"/><circle cx="361.9" cy="285.2" r="1.5"/><circle cx="358.5" cy="315.8" r="1.5"/><circle cx="372.0" cy="225.1" r="1.5"/><circle cx="361.4" cy="291.5" r="1.5"/><circle cx="362.5" cy="300.2" r="1.5"/><circle cx="364.1" cy="278.6" r="1.5"/><circle cx="358.7" cy="323.1" r="1.5"/><circle cx="363.3" cy="297.8" r="1.5"/><circle cx="366.2" cy="230.6" r="1.5"/><circle cx="356.1" cy="321.0" r="1.5"/><circle cx="370.5" cy="269.9" r="1.5"/><circle cx="364.4" cy="284.6" r="1.5"/><circle cx="360.2" cy="318.4" r="1.5"/><circle cx="362.9" cy="296.9" r="1.5"/><circle cx="368.9" cy="270.7" r="1.5"/><circle cx="363.3" cy="283.7" r="1.5"/><circle cx="357.3" cy="308.9" r="1.5"/><circle cx="355.0" cy="305.7" r="1.5"/><circle cx="351.7" cy="305.2" r="1.5"/><circle cx="355.1" cy="300.5" r="1.5"/><circle cx="354.1" cy="319.8" r="1.5"/><circle cx="359.0" cy="299.8" r="1.5"/><circle cx="361.3" cy="308.2" r="1.5"/><circle cx="356.3" cy="318.5" r="1.5"/><circle cx="356.0" cy="301.9" r="1.5"/><circle cx="359.3" cy="311.1" r="1.5"/><circle cx="357.2" cy="312.9" r="1.5"/><circle cx="356.2" cy="316.0" r="1.5"/><circle cx="356.1" cy="321.9" r="1.5"/><circle cx="356.7" cy="300.8" r="1.5"/><circle cx="359.5" cy="290.2" r="1.5"/><circle cx="363.3" cy="311.9" r="1.5"/><circle cx="358.6" cy="313.7" r="1.5"/><circle cx="350.6" cy="312.0" r="1.5"/><circle cx="353.8" cy="312.2" r="1.5"/><circle cx="353.7" cy="311.5" r="1.5"/><circle cx="358.0" cy="314.5" r="1.5"/><circle cx="361.3" cy="306.5" r="1.5"/><circle cx="358.5" cy="317.5" r="1.5"/><circle cx="358.1" cy="291.3" r="1.5"/><circle cx="360.8" cy="317.9" r="1.5"/><circle cx="354.7" cy="303.3" r="1.5"/><circle cx="357.9" cy="319.6" r="1.5"/><circle cx="353.2" cy="299.3" r="1.5"/><circle cx="354.7" cy="300.9" r="1.5"/><circle cx="358.2" cy="305.5" r="1.5"/><circle cx="357.9" cy="313.1" r="1.5"/><circle cx="356.6" cy="310.4" r="1.5"/><circle cx="361.0" cy="291.4" r="1.5"/><circle cx="360.7" cy="310.7" r="1.5"/><circle cx="356.5" cy="323.1" r="1.5"/></g>
<line x1="303" y1="37.3" x2="303" y2="337.5" stroke="#000" stroke-width="1.2" stroke-dasharray="1.2 1.22"/>
<line x1="410.1" y1="37.3" x2="410.1" y2="337.5" stroke="#000" stroke-width="1.2" stroke-dasharray="1.2 1.22"/>
<line x1="294.5" y1="191.1" x2="472" y2="191.1" stroke="#1b3a68" stroke-width="1.4" stroke-dasharray="3.8 3.46"/>
<line x1="302.4" y1="337.5" x2="467.75" y2="337.5" stroke="#0a0a0a" stroke-width="1.2"/>
<line x1="303" y1="337.5" x2="303" y2="341" stroke="#0a0a0a" stroke-width="1.2"/>
<text x="301.8" y="352.2" font-size="8.6" text-anchor="middle" font-weight="normal" fill="#1c1c1c">−1</text>
<line x1="356.75" y1="337.5" x2="356.75" y2="341" stroke="#0a0a0a" stroke-width="1.2"/>
<text x="356.75" y="352.2" font-size="8.6" text-anchor="middle" font-weight="normal" fill="#1c1c1c">0</text>
<line x1="410.5" y1="337.5" x2="410.5" y2="341" stroke="#0a0a0a" stroke-width="1.2"/>
<text x="410.5" y="352.2" font-size="8.6" text-anchor="middle" font-weight="normal" fill="#1c1c1c">1</text>
<line x1="464.25" y1="337.5" x2="464.25" y2="341" stroke="#0a0a0a" stroke-width="1.2"/>
<text x="464.25" y="352.2" font-size="8.6" text-anchor="middle" font-weight="normal" fill="#1c1c1c">2</text>
<line x1="300" y1="323" x2="303" y2="323" stroke="#0a0a0a" stroke-width="1.1"/>
<text x="291.4" y="326.1" font-size="8.6" text-anchor="end" font-weight="normal" fill="#1c1c1c">0</text>
<line x1="300" y1="221.7" x2="303" y2="221.7" stroke="#0a0a0a" stroke-width="1.1"/>
<text x="295.6" y="224.79999999999998" font-size="8.6" text-anchor="end" font-weight="normal" fill="#1c1c1c">1</text>
<line x1="300" y1="120.2" x2="303" y2="120.2" stroke="#0a0a0a" stroke-width="1.1"/>
<text x="291.4" y="123.3" font-size="8.6" text-anchor="end" font-weight="normal" fill="#1c1c1c">2</text>
<line x1="300" y1="68" x2="303" y2="68" stroke="#0a0a0a" stroke-width="1.1"/>
<text x="385.2" y="366.8" font-size="9.6" text-anchor="middle" font-weight="normal" fill="#1c1c1c" textLength="55" lengthAdjust="spacingAndGlyphs" stroke="#1c1c1c" stroke-width="0.4">log2 fold change</text>
<text transform="translate(282 188.2) rotate(-90)" font-size="9.4" text-anchor="middle" fill="#1c1c1c" stroke="#1c1c1c" stroke-width="0.35" textLength="64" lengthAdjust="spacingAndGlyphs">-log10(adj <tspan font-style="italic" dx="2.5">P</tspan>value)</text>
<path d="M340.0 268.0L351.5 295.0M360.0 283.0L360.0 290.0M367.5 283.0L361.5 289.0M364.0 270.0L361.0 273.0M332.5 298.0L353.5 304.0M381.0 297.0L362.0 299.0M381.0 312.0L363.0 304.5M396.0 328.0L361.0 316.5M360.0 324.0L358.5 319.0M354.0 327.0L356.0 322.5M335.0 313.0L342.0 311.0M343.0 252.0L347.0 245.0M346.0 212.0L344.0 215.5M378.0 137.0L378.0 141.0" stroke="#333" stroke-width="0.7" fill="none"/>
<g fill="#5a9f6b" stroke="#1d4028" stroke-width="1.2"><circle cx="378.0" cy="141.0" r="1.6"/><circle cx="343.8" cy="215.8" r="1.6"/><circle cx="347.5" cy="244.3" r="1.6"/><circle cx="361.0" cy="273.0" r="1.6"/><circle cx="360.0" cy="290.0" r="1.6"/><circle cx="361.0" cy="288.0" r="1.6"/><circle cx="352.0" cy="295.5" r="1.6"/><circle cx="361.0" cy="299.0" r="1.6"/><circle cx="360.0" cy="302.0" r="1.6"/><circle cx="362.5" cy="304.0" r="1.6"/><circle cx="354.0" cy="304.0" r="1.6"/><circle cx="356.0" cy="322.0" r="1.6"/><circle cx="358.0" cy="318.5" r="1.6"/><circle cx="360.0" cy="316.0" r="1.6"/><circle cx="357.0" cy="320.0" r="1.6"/></g>
<rect x="369.0" y="127.0" width="28.0" height="10" rx="1" ry="1" fill="#fff" stroke="#2c2c2c" stroke-width="0.85"/>
<text x="383.0" y="134.9" font-size="8.2" text-anchor="middle" fill="#1e1e1e" stroke="#1e1e1e" stroke-width="0.28">TLN1</text>
<rect x="334.5" y="202.0" width="28.0" height="10" rx="1" ry="1" fill="#fff" stroke="#2c2c2c" stroke-width="0.85"/>
<text x="348.5" y="209.9" font-size="8.2" text-anchor="middle" fill="#1e1e1e" stroke="#1e1e1e" stroke-width="0.28">ANK1</text>
<rect x="315.2" y="245.0" width="27.5" height="10" rx="1" ry="1" fill="#fff" stroke="#2c2c2c" stroke-width="0.85"/>
<text x="329.0" y="252.9" font-size="8.2" text-anchor="middle" fill="#1e1e1e" stroke="#1e1e1e" stroke-width="0.28">ADD3</text>
<rect x="308.0" y="261.0" width="32.0" height="10" rx="1" ry="1" fill="#fff" stroke="#2c2c2c" stroke-width="0.85"/>
<text x="324.0" y="268.9" font-size="8.2" text-anchor="middle" fill="#1e1e1e" stroke="#1e1e1e" stroke-width="0.28">EPB42</text>
<rect x="352.0" y="260.0" width="30.0" height="10" rx="1" ry="1" fill="#fff" stroke="#2c2c2c" stroke-width="0.85"/>
<text x="367.0" y="267.9" font-size="8.2" text-anchor="middle" fill="#1e1e1e" stroke="#1e1e1e" stroke-width="0.28">DMTN</text>
<rect x="328.0" y="277.0" width="32.0" height="10" rx="1" ry="1" fill="#fff" stroke="#2c2c2c" stroke-width="0.85"/>
<text x="344.0" y="284.9" font-size="8.2" text-anchor="middle" fill="#1e1e1e" stroke="#1e1e1e" stroke-width="0.28">EPB41</text>
<rect x="367.5" y="276.0" width="30.0" height="10" rx="1" ry="1" fill="#fff" stroke="#2c2c2c" stroke-width="0.85"/>
<text x="382.5" y="283.9" font-size="8.2" text-anchor="middle" fill="#1e1e1e" stroke="#1e1e1e" stroke-width="0.28">GYPC</text>
<rect x="303.8" y="292.0" width="28.5" height="10" rx="1" ry="1" fill="#fff" stroke="#2c2c2c" stroke-width="0.85"/>
<text x="318.0" y="299.9" font-size="8.2" text-anchor="middle" fill="#1e1e1e" stroke="#1e1e1e" stroke-width="0.28">ANK1</text>
<rect x="381.0" y="291.5" width="39.0" height="10" rx="1" ry="1" fill="#fff" stroke="#2c2c2c" stroke-width="0.85"/>
<text x="400.5" y="299.4" font-size="8.2" text-anchor="middle" fill="#1e1e1e" stroke="#1e1e1e" stroke-width="0.28">SLC4A1</text>
<rect x="307.0" y="308.0" width="28.0" height="10" rx="1" ry="1" fill="#fff" stroke="#2c2c2c" stroke-width="0.85"/>
<text x="321.0" y="315.9" font-size="8.2" text-anchor="middle" fill="#1e1e1e" stroke="#1e1e1e" stroke-width="0.28">CD47</text>
<rect x="342.0" y="305.5" width="32.0" height="10" rx="1" ry="1" fill="#fff" stroke="#2c2c2c" stroke-width="0.85"/>
<text x="358.0" y="313.4" font-size="8.2" text-anchor="middle" fill="#1e1e1e" stroke="#1e1e1e" stroke-width="0.28">EPB41</text>
<rect x="381.0" y="307.0" width="30.0" height="10" rx="1" ry="1" fill="#fff" stroke="#2c2c2c" stroke-width="0.85"/>
<text x="396.0" y="314.9" font-size="8.2" text-anchor="middle" fill="#1e1e1e" stroke="#1e1e1e" stroke-width="0.28">GYPA</text>
<rect x="324.2" y="324.0" width="29.5" height="10" rx="1" ry="1" fill="#fff" stroke="#2c2c2c" stroke-width="0.85"/>
<text x="339.0" y="331.9" font-size="8.2" text-anchor="middle" fill="#1e1e1e" stroke="#1e1e1e" stroke-width="0.28">ADD1</text>
<rect x="360.2" y="324.0" width="29.5" height="10" rx="1" ry="1" fill="#fff" stroke="#2c2c2c" stroke-width="0.85"/>
<text x="375.0" y="331.9" font-size="8.2" text-anchor="middle" fill="#1e1e1e" stroke="#1e1e1e" stroke-width="0.28">ADD2</text>
<rect x="396.0" y="323.0" width="43.0" height="10" rx="1" ry="1" fill="#fff" stroke="#2c2c2c" stroke-width="0.85"/>
<text x="417.5" y="330.9" font-size="8.2" text-anchor="middle" fill="#1e1e1e" stroke="#1e1e1e" stroke-width="0.28">EPB41L2</text>
<text x="323.5" y="381.3" font-size="7.7" text-anchor="start" font-weight="normal" fill="#333" textLength="78" lengthAdjust="spacing">anchorage complexes</text>
<circle cx="409.6" cy="378.6" r="1.25" fill="#c6c6c6"/>
<text x="414.6" y="381.3" font-size="7.7" text-anchor="start" font-weight="normal" fill="#333" textLength="9" lengthAdjust="spacing">no</text>
<circle cx="429.1" cy="378.6" r="1.5" fill="#4f9460" stroke="#1d4028" stroke-width="1.1"/>
<text x="433.8" y="381.3" font-size="7.7" text-anchor="start" font-weight="normal" fill="#333" textLength="12.2" lengthAdjust="spacing">yes</text>
<text x="261.2" y="31.8" font-size="11" text-anchor="start" font-weight="bold" fill="#000" stroke="#000" stroke-width="0.3">B</text>
<path d="M54.5 419.2V512.5H123.0" stroke="#0a0a0a" stroke-width="1.4" fill="none"/>
<line x1="51.2" y1="422" x2="54.5" y2="422" stroke="#0a0a0a" stroke-width="1.1"/>
<text x="47.7" y="425.1" font-size="8.9" text-anchor="end" font-weight="normal" fill="#1c1c1c" stroke="#1c1c1c" stroke-width="0.25">2.0</text>
<line x1="51.2" y1="445" x2="54.5" y2="445" stroke="#0a0a0a" stroke-width="1.1"/>
<text x="47.7" y="448.1" font-size="8.9" text-anchor="end" font-weight="normal" fill="#1c1c1c" stroke="#1c1c1c" stroke-width="0.25">1.5</text>
<line x1="51.2" y1="467.5" x2="54.5" y2="467.5" stroke="#0a0a0a" stroke-width="1.1"/>
<text x="47.7" y="470.6" font-size="8.9" text-anchor="end" font-weight="normal" fill="#1c1c1c" stroke="#1c1c1c" stroke-width="0.25">1.0</text>
<line x1="51.2" y1="490" x2="54.5" y2="490" stroke="#0a0a0a" stroke-width="1.1"/>
<text x="47.7" y="493.1" font-size="8.9" text-anchor="end" font-weight="normal" fill="#1c1c1c" stroke="#1c1c1c" stroke-width="0.25">0.5</text>
<line x1="51.2" y1="512.5" x2="54.5" y2="512.5" stroke="#0a0a0a" stroke-width="1.1"/>
<text x="47.7" y="515.6" font-size="8.9" text-anchor="end" font-weight="normal" fill="#1c1c1c" stroke="#1c1c1c" stroke-width="0.25">0.0</text>
<line x1="74.0" y1="512.5" x2="74.0" y2="515.8" stroke="#0a0a0a" stroke-width="1.1"/>
<text x="74.0" y="527.0" font-size="8.6" text-anchor="middle" font-weight="normal" fill="#1c1c1c">non-spl</text>
<line x1="103.0" y1="512.5" x2="103.0" y2="515.8" stroke="#0a0a0a" stroke-width="1.1"/>
<text x="103.0" y="527.0" font-size="8.6" text-anchor="middle" font-weight="normal" fill="#1c1c1c">spl</text>
<text transform="translate(29.2 466.25) rotate(-90)" word-spacing="1.5" font-size="10" text-anchor="middle" fill="#1c1c1c" stroke="#1c1c1c" stroke-width="0.35" textLength="65" lengthAdjust="spacingAndGlyphs">TUBA1B (CTL ratio)</text>
<line x1="57.7" y1="461" x2="121.3" y2="461" stroke="#c4899b" stroke-width="1" stroke-dasharray="1.3 1.9"/>
<line x1="57.7" y1="467.7" x2="121.3" y2="467.7" stroke="#b4d2d8" stroke-width="1" stroke-dasharray="1.3 1.9"/>
<line x1="64.2" y1="434.4" x2="83.8" y2="434.4" stroke="#222" stroke-width="1.2"/>
<circle cx="74" cy="427" r="3.2" fill="#fff" stroke="#d0a070" stroke-width="0.9"/>
<circle cx="74" cy="441" r="3.2" fill="#fff" stroke="#5d8d92" stroke-width="0.9"/>
<circle cx="74" cy="435" r="3.2" fill="#fff" stroke="#3f5f88" stroke-width="0.9"/>
<line x1="92.8" y1="449.2" x2="112.3" y2="449.2" stroke="#222" stroke-width="1.2"/>
<circle cx="96.2" cy="445.5" r="3.1" fill="#bd1230"/>
<circle cx="103" cy="442.5" r="2.85" fill="#fff" stroke="#c8822e" stroke-width="0.8"/>
<path d="M100.15 442.5A2.85 2.85 0 0 1 105.85 442.5Z" fill="#c8822e" stroke="#c8822e" stroke-width="0.8"/>
<circle cx="110" cy="448" r="3.1" fill="#454a5c"/>
<circle cx="103" cy="451" r="2.85" fill="#fff" stroke="#1c4466" stroke-width="0.8"/>
<path d="M100.15 451A2.85 2.85 0 0 1 105.85 451Z" fill="#1c4466" stroke="#1c4466" stroke-width="0.8"/>
<circle cx="103" cy="459" r="3.1" fill="#4e1a52"/>
<text x="7.85" y="410.7" font-size="12.3" text-anchor="start" font-weight="bold" fill="#000" stroke="#000" stroke-width="0.3">C</text>
<path d="M188 419.2V512.5H256.5" stroke="#0a0a0a" stroke-width="1.4" fill="none"/>
<line x1="184.7" y1="422" x2="188" y2="422" stroke="#0a0a0a" stroke-width="1.1"/>
<text x="181.2" y="425.1" font-size="8.9" text-anchor="end" font-weight="normal" fill="#1c1c1c" stroke="#1c1c1c" stroke-width="0.25">2.5</text>
<line x1="184.7" y1="440.5" x2="188" y2="440.5" stroke="#0a0a0a" stroke-width="1.1"/>
<text x="181.2" y="443.6" font-size="8.9" text-anchor="end" font-weight="normal" fill="#1c1c1c" stroke="#1c1c1c" stroke-width="0.25">2.0</text>
<line x1="184.7" y1="458.5" x2="188" y2="458.5" stroke="#0a0a0a" stroke-width="1.1"/>
<text x="181.2" y="461.6" font-size="8.9" text-anchor="end" font-weight="normal" fill="#1c1c1c" stroke="#1c1c1c" stroke-width="0.25">1.5</text>
<line x1="184.7" y1="476.5" x2="188" y2="476.5" stroke="#0a0a0a" stroke-width="1.1"/>
<text x="181.2" y="479.6" font-size="8.9" text-anchor="end" font-weight="normal" fill="#1c1c1c" stroke="#1c1c1c" stroke-width="0.25">1.0</text>
<line x1="184.7" y1="494.5" x2="188" y2="494.5" stroke="#0a0a0a" stroke-width="1.1"/>
<text x="181.2" y="497.6" font-size="8.9" text-anchor="end" font-weight="normal" fill="#1c1c1c" stroke="#1c1c1c" stroke-width="0.25">0.5</text>
<line x1="184.7" y1="512.5" x2="188" y2="512.5" stroke="#0a0a0a" stroke-width="1.1"/>
<text x="181.2" y="515.6" font-size="8.9" text-anchor="end" font-weight="normal" fill="#1c1c1c" stroke="#1c1c1c" stroke-width="0.25">0.0</text>
<line x1="207.5" y1="512.5" x2="207.5" y2="515.8" stroke="#0a0a0a" stroke-width="1.1"/>
<text x="207.5" y="527.0" font-size="8.6" text-anchor="middle" font-weight="normal" fill="#1c1c1c">non-spl</text>
<line x1="236.5" y1="512.5" x2="236.5" y2="515.8" stroke="#0a0a0a" stroke-width="1.1"/>
<text x="236.5" y="527.0" font-size="8.6" text-anchor="middle" font-weight="normal" fill="#1c1c1c">spl</text>
<text transform="translate(162.2 466.25) rotate(-90)" word-spacing="1.5" font-size="10" text-anchor="middle" fill="#1c1c1c" stroke="#1c1c1c" stroke-width="0.35" textLength="65" lengthAdjust="spacingAndGlyphs">TUBB4B (CTL ratio)</text>
<line x1="191.2" y1="473.5" x2="254.8" y2="473.5" stroke="#c4899b" stroke-width="1" stroke-dasharray="1.3 1.9"/>
<line x1="191.2" y1="476.5" x2="254.8" y2="476.5" stroke="#b4d2d8" stroke-width="1" stroke-dasharray="1.3 1.9"/>
<line x1="197.5" y1="444" x2="217" y2="444" stroke="#222" stroke-width="1.2"/>
<circle cx="207" cy="437" r="3.2" fill="#fff" stroke="#d0a070" stroke-width="0.9"/>
<circle cx="207" cy="451" r="3.2" fill="#fff" stroke="#5d8d92" stroke-width="0.9"/>
<circle cx="207" cy="445" r="3.2" fill="#fff" stroke="#3f5f88" stroke-width="0.9"/>
<line x1="226" y1="472" x2="246" y2="472" stroke="#222" stroke-width="1.2"/>
<circle cx="228.7" cy="469" r="2.85" fill="#fff" stroke="#c8822e" stroke-width="0.8"/>
<path d="M225.85 469A2.85 2.85 0 0 1 231.54999999999998 469Z" fill="#c8822e" stroke="#c8822e" stroke-width="0.8"/>
<circle cx="243" cy="466.5" r="3.1" fill="#e8821e"/>
<circle cx="238.5" cy="470.3" r="3.1" fill="#454a5c"/>
<circle cx="233" cy="472" r="3.1" fill="#4e1a52"/>
<circle cx="244" cy="472.6" r="3.1" fill="#9c1030"/>
<circle cx="236" cy="472.2" r="3.1" fill="#1c4466"/>
<circle cx="229.5" cy="476.5" r="3.1" fill="#2ea836"/>
<circle cx="240" cy="477" r="3.1" fill="#e6127e"/>
<circle cx="234.8" cy="474" r="2.85" fill="#fff" stroke="#1c4466" stroke-width="0.8"/>
<path d="M231.95000000000002 474A2.85 2.85 0 0 1 237.65 474Z" fill="#1c4466" stroke="#1c4466" stroke-width="0.8"/>
<text x="140.2" y="410.7" font-size="12.3" text-anchor="start" font-weight="bold" fill="#000" stroke="#000" stroke-width="0.3">D</text>
<path d="M320 419.2V512.5H388.5" stroke="#0a0a0a" stroke-width="1.4" fill="none"/>
<line x1="316.7" y1="422" x2="320" y2="422" stroke="#0a0a0a" stroke-width="1.1"/>
<text x="313.2" y="425.1" font-size="8.9" text-anchor="end" font-weight="normal" fill="#1c1c1c" stroke="#1c1c1c" stroke-width="0.25">2.5</text>
<line x1="316.7" y1="440.5" x2="320" y2="440.5" stroke="#0a0a0a" stroke-width="1.1"/>
<text x="313.2" y="443.6" font-size="8.9" text-anchor="end" font-weight="normal" fill="#1c1c1c" stroke="#1c1c1c" stroke-width="0.25">2.0</text>
<line x1="316.7" y1="458.5" x2="320" y2="458.5" stroke="#0a0a0a" stroke-width="1.1"/>
<text x="313.2" y="461.6" font-size="8.9" text-anchor="end" font-weight="normal" fill="#1c1c1c" stroke="#1c1c1c" stroke-width="0.25">1.5</text>
<line x1="316.7" y1="476.5" x2="320" y2="476.5" stroke="#0a0a0a" stroke-width="1.1"/>
<text x="313.2" y="479.6" font-size="8.9" text-anchor="end" font-weight="normal" fill="#1c1c1c" stroke="#1c1c1c" stroke-width="0.25">1.0</text>
<line x1="316.7" y1="494.5" x2="320" y2="494.5" stroke="#0a0a0a" stroke-width="1.1"/>
<text x="313.2" y="497.6" font-size="8.9" text-anchor="end" font-weight="normal" fill="#1c1c1c" stroke="#1c1c1c" stroke-width="0.25">0.5</text>
<line x1="316.7" y1="512.5" x2="320" y2="512.5" stroke="#0a0a0a" stroke-width="1.1"/>
<text x="313.2" y="515.6" font-size="8.9" text-anchor="end" font-weight="normal" fill="#1c1c1c" stroke="#1c1c1c" stroke-width="0.25">0.0</text>
<line x1="339.5" y1="512.5" x2="339.5" y2="515.8" stroke="#0a0a0a" stroke-width="1.1"/>
<text x="339.5" y="527.0" font-size="8.6" text-anchor="middle" font-weight="normal" fill="#1c1c1c">non-spl</text>
<line x1="368.5" y1="512.5" x2="368.5" y2="515.8" stroke="#0a0a0a" stroke-width="1.1"/>
<text x="368.5" y="527.0" font-size="8.6" text-anchor="middle" font-weight="normal" fill="#1c1c1c">spl</text>
<text transform="translate(294.2 466.25) rotate(-90)" word-spacing="1.5" font-size="10" text-anchor="middle" fill="#1c1c1c" stroke="#1c1c1c" stroke-width="0.35" textLength="65" lengthAdjust="spacingAndGlyphs">TUBA4A (CTL ratio)</text>
<line x1="323.2" y1="471" x2="386.8" y2="471" stroke="#c4899b" stroke-width="1" stroke-dasharray="1.3 1.9"/>
<line x1="323.2" y1="476.5" x2="386.8" y2="476.5" stroke="#b4d2d8" stroke-width="1" stroke-dasharray="1.3 1.9"/>
<line x1="329" y1="468" x2="349" y2="468" stroke="#222" stroke-width="1.2"/>
<circle cx="339" cy="461" r="3.2" fill="#fff" stroke="#3f5f88" stroke-width="0.9"/>
<circle cx="346" cy="468" r="3.2" fill="#fff" stroke="#5d8d92" stroke-width="0.9"/>
<circle cx="332.5" cy="474" r="3.2" fill="#fff" stroke="#d0a070" stroke-width="0.9"/>
<line x1="358" y1="454" x2="377.5" y2="454" stroke="#222" stroke-width="1.2"/>
<circle cx="361" cy="440.5" r="2.85" fill="#fff" stroke="#c8822e" stroke-width="0.8"/>
<path d="M358.15 440.5A2.85 2.85 0 0 1 363.85 440.5Z" fill="#c8822e" stroke="#c8822e" stroke-width="0.8"/>
<circle cx="375" cy="443" r="2.85" fill="#fff" stroke="#1c4466" stroke-width="0.8"/>
<path d="M372.15 443A2.85 2.85 0 0 1 377.85 443Z" fill="#1c4466" stroke="#1c4466" stroke-width="0.8"/>
<circle cx="368" cy="452.5" r="3.1" fill="#454a5c"/>
<circle cx="368" cy="460" r="3.1" fill="#bd1230"/>
<circle cx="368" cy="472.5" r="3.1" fill="#4e1a52"/>
<text x="273.2" y="410.7" font-size="12.3" text-anchor="start" font-weight="bold" fill="#000" stroke="#000" stroke-width="0.3">E</text>
<path d="M443.75 419.2V512.5H512.25" stroke="#0a0a0a" stroke-width="1.4" fill="none"/>
<line x1="440.45" y1="422" x2="443.75" y2="422" stroke="#0a0a0a" stroke-width="1.1"/>
<text x="436.95" y="425.1" font-size="8.9" text-anchor="end" font-weight="normal" fill="#1c1c1c" stroke="#1c1c1c" stroke-width="0.25">4</text>
<line x1="440.45" y1="445" x2="443.75" y2="445" stroke="#0a0a0a" stroke-width="1.1"/>
<text x="436.95" y="448.1" font-size="8.9" text-anchor="end" font-weight="normal" fill="#1c1c1c" stroke="#1c1c1c" stroke-width="0.25">3</text>
<line x1="440.45" y1="467.5" x2="443.75" y2="467.5" stroke="#0a0a0a" stroke-width="1.1"/>
<text x="436.95" y="470.6" font-size="8.9" text-anchor="end" font-weight="normal" fill="#1c1c1c" stroke="#1c1c1c" stroke-width="0.25">2</text>
<line x1="440.45" y1="490" x2="443.75" y2="490" stroke="#0a0a0a" stroke-width="1.1"/>
<text x="436.95" y="493.1" font-size="8.9" text-anchor="end" font-weight="normal" fill="#1c1c1c" stroke="#1c1c1c" stroke-width="0.25">1</text>
<line x1="440.45" y1="512.5" x2="443.75" y2="512.5" stroke="#0a0a0a" stroke-width="1.1"/>
<text x="436.95" y="515.6" font-size="8.9" text-anchor="end" font-weight="normal" fill="#1c1c1c" stroke="#1c1c1c" stroke-width="0.25">0</text>
<line x1="463.25" y1="512.5" x2="463.25" y2="515.8" stroke="#0a0a0a" stroke-width="1.1"/>
<text x="463.25" y="527.0" font-size="8.6" text-anchor="middle" font-weight="normal" fill="#1c1c1c">non-spl</text>
<line x1="492.25" y1="512.5" x2="492.25" y2="515.8" stroke="#0a0a0a" stroke-width="1.1"/>
<text x="492.25" y="527.0" font-size="8.6" text-anchor="middle" font-weight="normal" fill="#1c1c1c">spl</text>
<text transform="translate(426.2 466.25) rotate(-90)" word-spacing="1.5" font-size="10" text-anchor="middle" fill="#1c1c1c" stroke="#1c1c1c" stroke-width="0.35" textLength="62" lengthAdjust="spacingAndGlyphs">RMDN3 (CTL ratio)</text>
<line x1="446.95" y1="484.5" x2="510.55" y2="484.5" stroke="#c4899b" stroke-width="1" stroke-dasharray="1.3 1.9"/>
<line x1="446.95" y1="490" x2="510.55" y2="490" stroke="#b4d2d8" stroke-width="1" stroke-dasharray="1.3 1.9"/>
<line x1="453.5" y1="488" x2="473" y2="488" stroke="#222" stroke-width="1.2"/>
<circle cx="456.5" cy="483.5" r="3.2" fill="#fff" stroke="#d0a070" stroke-width="0.9"/>
<circle cx="463" cy="493" r="3.2" fill="#fff" stroke="#5d8d92" stroke-width="0.9"/>
<circle cx="470" cy="487" r="3.2" fill="#fff" stroke="#3f5f88" stroke-width="0.9"/>
<line x1="483" y1="472.5" x2="502.5" y2="472.5" stroke="#222" stroke-width="1.2"/>
<circle cx="492" cy="440" r="3.1" fill="#bd1230"/>
<circle cx="492" cy="466" r="3.1" fill="#e6127e"/>
<circle cx="499" cy="466" r="3.1" fill="#bd1230"/>
<circle cx="485" cy="470" r="2.85" fill="#fff" stroke="#1c4466" stroke-width="0.8"/>
<path d="M482.15 470A2.85 2.85 0 0 1 487.85 470Z" fill="#1c4466" stroke="#1c4466" stroke-width="0.8"/>
<circle cx="499" cy="473.5" r="3.1" fill="#454a5c"/>
<circle cx="492.5" cy="475.5" r="2.85" fill="#fff" stroke="#c8822e" stroke-width="0.8"/>
<path d="M489.65 475.5A2.85 2.85 0 0 1 495.35 475.5Z" fill="#c8822e" stroke="#c8822e" stroke-width="0.8"/>
<circle cx="492" cy="482" r="3.1" fill="#2ea836"/>
<circle cx="496" cy="488.5" r="3.1" fill="#4e1a52"/>
<circle cx="489" cy="493.5" r="3.1" fill="#e8821e"/>
<text x="405.4" y="410.7" font-size="12.3" text-anchor="start" font-weight="bold" fill="#000" stroke="#000" stroke-width="0.3">F</text>
<path d="M54.5 566.7V659.6H123.0" stroke="#0a0a0a" stroke-width="1.4" fill="none"/>
<line x1="51.2" y1="569.5" x2="54.5" y2="569.5" stroke="#0a0a0a" stroke-width="1.1"/>
<text x="47.7" y="572.6" font-size="8.9" text-anchor="end" font-weight="normal" fill="#1c1c1c" stroke="#1c1c1c" stroke-width="0.25">3</text>
<line x1="51.2" y1="599.5" x2="54.5" y2="599.5" stroke="#0a0a0a" stroke-width="1.1"/>
<text x="47.7" y="602.6" font-size="8.9" text-anchor="end" font-weight="normal" fill="#1c1c1c" stroke="#1c1c1c" stroke-width="0.25">2</text>
<line x1="51.2" y1="629.5" x2="54.5" y2="629.5" stroke="#0a0a0a" stroke-width="1.1"/>
<text x="47.7" y="632.6" font-size="8.9" text-anchor="end" font-weight="normal" fill="#1c1c1c" stroke="#1c1c1c" stroke-width="0.25">1</text>
<line x1="51.2" y1="659.6" x2="54.5" y2="659.6" stroke="#0a0a0a" stroke-width="1.1"/>
<text x="47.7" y="662.7" font-size="8.9" text-anchor="end" font-weight="normal" fill="#1c1c1c" stroke="#1c1c1c" stroke-width="0.25">0</text>
<line x1="74.0" y1="659.6" x2="74.0" y2="662.9" stroke="#0a0a0a" stroke-width="1.1"/>
<text x="74.0" y="674.1" font-size="8.6" text-anchor="middle" font-weight="normal" fill="#1c1c1c">non-spl</text>
<line x1="103.0" y1="659.6" x2="103.0" y2="662.9" stroke="#0a0a0a" stroke-width="1.1"/>
<text x="103.0" y="674.1" font-size="8.6" text-anchor="middle" font-weight="normal" fill="#1c1c1c">spl</text>
<text transform="translate(36.0 613.55) rotate(-90)" word-spacing="1.5" font-size="10" text-anchor="middle" fill="#1c1c1c" stroke="#1c1c1c" stroke-width="0.35" textLength="64" lengthAdjust="spacingAndGlyphs">Septin-2 (CTL ratio)</text>
<line x1="57.7" y1="627.3" x2="121.3" y2="627.3" stroke="#b58c96" stroke-width="1" stroke-dasharray="1.3 1.9"/>
<line x1="57.7" y1="629.5" x2="121.3" y2="629.5" stroke="#a9bcc0" stroke-width="1" stroke-dasharray="1.3 1.9"/>
<line x1="64.5" y1="588" x2="84" y2="588" stroke="#222" stroke-width="1.2"/>
<circle cx="67" cy="583" r="3.2" fill="#fff" stroke="#3f5f88" stroke-width="0.9"/>
<circle cx="80.5" cy="587.5" r="3.2" fill="#fff" stroke="#d0a070" stroke-width="0.9"/>
<circle cx="74" cy="595.5" r="3.2" fill="#fff" stroke="#5d8d92" stroke-width="0.9"/>
<line x1="93" y1="605" x2="112.5" y2="605" stroke="#222" stroke-width="1.2"/>
<circle cx="103" cy="574" r="3.1" fill="#454a5c"/>
<circle cx="109.5" cy="606" r="2.85" fill="#fff" stroke="#c8822e" stroke-width="0.8"/>
<path d="M106.65 606A2.85 2.85 0 0 1 112.35 606Z" fill="#c8822e" stroke="#c8822e" stroke-width="0.8"/>
<circle cx="96" cy="611" r="2.85" fill="#fff" stroke="#1c4466" stroke-width="0.8"/>
<path d="M93.15 611A2.85 2.85 0 0 1 98.85 611Z" fill="#1c4466" stroke="#1c4466" stroke-width="0.8"/>
<circle cx="109.5" cy="614" r="3.1" fill="#bd1230"/>
<circle cx="103" cy="620" r="3.1" fill="#4e1a52"/>
<text x="7.85" y="557.5" font-size="12.3" text-anchor="start" font-weight="bold" fill="#000" stroke="#000" stroke-width="0.3">G</text>
<path d="M188 566.7V659.6H256.5" stroke="#0a0a0a" stroke-width="1.4" fill="none"/>
<line x1="184.7" y1="569.5" x2="188" y2="569.5" stroke="#0a0a0a" stroke-width="1.1"/>
<text x="181.2" y="572.6" font-size="8.9" text-anchor="end" font-weight="normal" fill="#1c1c1c" stroke="#1c1c1c" stroke-width="0.25">4</text>
<line x1="184.7" y1="592" x2="188" y2="592" stroke="#0a0a0a" stroke-width="1.1"/>
<text x="181.2" y="595.1" font-size="8.9" text-anchor="end" font-weight="normal" fill="#1c1c1c" stroke="#1c1c1c" stroke-width="0.25">3</text>
<line x1="184.7" y1="614.5" x2="188" y2="614.5" stroke="#0a0a0a" stroke-width="1.1"/>
<text x="181.2" y="617.6" font-size="8.9" text-anchor="end" font-weight="normal" fill="#1c1c1c" stroke="#1c1c1c" stroke-width="0.25">2</text>
<line x1="184.7" y1="637" x2="188" y2="637" stroke="#0a0a0a" stroke-width="1.1"/>
<text x="181.2" y="640.1" font-size="8.9" text-anchor="end" font-weight="normal" fill="#1c1c1c" stroke="#1c1c1c" stroke-width="0.25">1</text>
<line x1="184.7" y1="659.6" x2="188" y2="659.6" stroke="#0a0a0a" stroke-width="1.1"/>
<text x="181.2" y="662.7" font-size="8.9" text-anchor="end" font-weight="normal" fill="#1c1c1c" stroke="#1c1c1c" stroke-width="0.25">0</text>
<line x1="207.5" y1="659.6" x2="207.5" y2="662.9" stroke="#0a0a0a" stroke-width="1.1"/>
<text x="207.5" y="674.1" font-size="8.6" text-anchor="middle" font-weight="normal" fill="#1c1c1c">non-spl</text>
<line x1="236.5" y1="659.6" x2="236.5" y2="662.9" stroke="#0a0a0a" stroke-width="1.1"/>
<text x="236.5" y="674.1" font-size="8.6" text-anchor="middle" font-weight="normal" fill="#1c1c1c">spl</text>
<text transform="translate(169.2 613.55) rotate(-90)" word-spacing="1.5" font-size="10" text-anchor="middle" fill="#1c1c1c" stroke="#1c1c1c" stroke-width="0.35" textLength="64" lengthAdjust="spacingAndGlyphs">Septin-7 (CTL ratio)</text>
<line x1="191.2" y1="636.1" x2="254.8" y2="636.1" stroke="#a9aeb2" stroke-width="1" stroke-dasharray="1.3 1.9"/>
<line x1="197.5" y1="601" x2="217" y2="601" stroke="#666" stroke-width="1.2"/>
<circle cx="200" cy="596" r="3.2" fill="#fff" stroke="#3f5f88" stroke-width="0.9"/>
<circle cx="214" cy="597.5" r="3.2" fill="#fff" stroke="#d0a070" stroke-width="0.9"/>
<circle cx="207" cy="609" r="3.2" fill="#fff" stroke="#5d8d92" stroke-width="0.9"/>
<line x1="226" y1="614.5" x2="246" y2="614.5" stroke="#555" stroke-width="1.2"/>
<circle cx="236" cy="592" r="3.1" fill="#454a5c"/>
<circle cx="236" cy="613" r="2.85" fill="#fff" stroke="#c8822e" stroke-width="0.8"/>
<path d="M233.15 613A2.85 2.85 0 0 1 238.85 613Z" fill="#c8822e" stroke="#c8822e" stroke-width="0.8"/>
<circle cx="229" cy="620" r="2.85" fill="#fff" stroke="#1c4466" stroke-width="0.8"/>
<path d="M226.15 620A2.85 2.85 0 0 1 231.85 620Z" fill="#1c4466" stroke="#1c4466" stroke-width="0.8"/>
<circle cx="243" cy="621" r="3.1" fill="#bd1230"/>
<circle cx="236" cy="628" r="3.1" fill="#4e1a52"/>
<text x="140.3" y="557.5" font-size="12.3" text-anchor="start" font-weight="bold" fill="#000" stroke="#000" stroke-width="0.3">H</text>
<path d="M320 566.7V659.6H388.5" stroke="#0a0a0a" stroke-width="1.4" fill="none"/>
<line x1="316.7" y1="569.5" x2="320" y2="569.5" stroke="#0a0a0a" stroke-width="1.1"/>
<text x="313.2" y="572.6" font-size="8.9" text-anchor="end" font-weight="normal" fill="#1c1c1c" stroke="#1c1c1c" stroke-width="0.25">3</text>
<line x1="316.7" y1="599.5" x2="320" y2="599.5" stroke="#0a0a0a" stroke-width="1.1"/>
<text x="313.2" y="602.6" font-size="8.9" text-anchor="end" font-weight="normal" fill="#1c1c1c" stroke="#1c1c1c" stroke-width="0.25">2</text>
<line x1="316.7" y1="629.5" x2="320" y2="629.5" stroke="#0a0a0a" stroke-width="1.1"/>
<text x="313.2" y="632.6" font-size="8.9" text-anchor="end" font-weight="normal" fill="#1c1c1c" stroke="#1c1c1c" stroke-width="0.25">1</text>
<line x1="316.7" y1="659.6" x2="320" y2="659.6" stroke="#0a0a0a" stroke-width="1.1"/>
<text x="313.2" y="662.7" font-size="8.9" text-anchor="end" font-weight="normal" fill="#1c1c1c" stroke="#1c1c1c" stroke-width="0.25">0</text>
<line x1="339.5" y1="659.6" x2="339.5" y2="662.9" stroke="#0a0a0a" stroke-width="1.1"/>
<text x="339.5" y="674.1" font-size="8.6" text-anchor="middle" font-weight="normal" fill="#1c1c1c">non-spl</text>
<line x1="368.5" y1="659.6" x2="368.5" y2="662.9" stroke="#0a0a0a" stroke-width="1.1"/>
<text x="368.5" y="674.1" font-size="8.6" text-anchor="middle" font-weight="normal" fill="#1c1c1c">spl</text>
<text transform="translate(301.2 613.55) rotate(-90)" word-spacing="1.5" font-size="10" text-anchor="middle" fill="#1c1c1c" stroke="#1c1c1c" stroke-width="0.35" textLength="64" lengthAdjust="spacingAndGlyphs">Septin-8 (CTL ratio)</text>
<line x1="323.2" y1="627.3" x2="386.8" y2="627.3" stroke="#b58c96" stroke-width="1" stroke-dasharray="1.3 1.9"/>
<line x1="323.2" y1="629.5" x2="386.8" y2="629.5" stroke="#a9bcc0" stroke-width="1" stroke-dasharray="1.3 1.9"/>
<line x1="329" y1="597" x2="349" y2="597" stroke="#444" stroke-width="1.2"/>
<circle cx="332" cy="593" r="3.2" fill="#fff" stroke="#3f5f88" stroke-width="0.9"/>
<circle cx="346" cy="595.5" r="3.2" fill="#fff" stroke="#d0a070" stroke-width="0.9"/>
<circle cx="339" cy="602" r="3.2" fill="#fff" stroke="#5d8d92" stroke-width="0.9"/>
<line x1="358" y1="614" x2="377.5" y2="614" stroke="#222" stroke-width="1.2"/>
<circle cx="369" cy="593" r="3.1" fill="#454a5c"/>
<circle cx="367" cy="598" r="3.1" fill="#e6127e"/>
<circle cx="361" cy="619.5" r="3.1" fill="#e8821e"/>
<circle cx="363" cy="617.5" r="2.85" fill="#fff" stroke="#c8822e" stroke-width="0.8"/>
<path d="M360.15 617.5A2.85 2.85 0 0 1 365.85 617.5Z" fill="#c8822e" stroke="#c8822e" stroke-width="0.8"/>
<circle cx="372" cy="616" r="3.1" fill="#2ea836"/>
<circle cx="366" cy="619" r="3.1" fill="#bd1230"/>
<circle cx="374.5" cy="619.5" r="3.1" fill="#9c1030"/>
<circle cx="370" cy="619.5" r="3.1" fill="#4e1a52"/>
<circle cx="371.8" cy="623" r="2.85" fill="#fff" stroke="#1c4466" stroke-width="0.8"/>
<path d="M368.95 623A2.85 2.85 0 0 1 374.65000000000003 623Z" fill="#1c4466" stroke="#1c4466" stroke-width="0.8"/>
<text x="273.2" y="557.5" font-size="12.3" text-anchor="start" font-weight="bold" fill="#000" stroke="#000" stroke-width="0.3">I</text>
<path d="M443.75 566.7V659.6H512.25" stroke="#0a0a0a" stroke-width="1.4" fill="none"/>
<line x1="440.45" y1="569.5" x2="443.75" y2="569.5" stroke="#0a0a0a" stroke-width="1.1"/>
<text x="436.95" y="572.6" font-size="8.9" text-anchor="end" font-weight="normal" fill="#1c1c1c" stroke="#1c1c1c" stroke-width="0.25">3</text>
<line x1="440.45" y1="599.5" x2="443.75" y2="599.5" stroke="#0a0a0a" stroke-width="1.1"/>
<text x="436.95" y="602.6" font-size="8.9" text-anchor="end" font-weight="normal" fill="#1c1c1c" stroke="#1c1c1c" stroke-width="0.25">2</text>
<line x1="440.45" y1="629.5" x2="443.75" y2="629.5" stroke="#0a0a0a" stroke-width="1.1"/>
<text x="436.95" y="632.6" font-size="8.9" text-anchor="end" font-weight="normal" fill="#1c1c1c" stroke="#1c1c1c" stroke-width="0.25">1</text>
<line x1="440.45" y1="659.6" x2="443.75" y2="659.6" stroke="#0a0a0a" stroke-width="1.1"/>
<text x="436.95" y="662.7" font-size="8.9" text-anchor="end" font-weight="normal" fill="#1c1c1c" stroke="#1c1c1c" stroke-width="0.25">0</text>
<line x1="463.25" y1="659.6" x2="463.25" y2="662.9" stroke="#0a0a0a" stroke-width="1.1"/>
<text x="463.25" y="674.1" font-size="8.6" text-anchor="middle" font-weight="normal" fill="#1c1c1c">non-spl</text>
<line x1="492.25" y1="659.6" x2="492.25" y2="662.9" stroke="#0a0a0a" stroke-width="1.1"/>
<text x="492.25" y="674.1" font-size="8.6" text-anchor="middle" font-weight="normal" fill="#1c1c1c">spl</text>
<text transform="translate(425.7 613.55) rotate(-90)" word-spacing="1.5" font-size="10" text-anchor="middle" fill="#1c1c1c" stroke="#1c1c1c" stroke-width="0.35" textLength="68" lengthAdjust="spacingAndGlyphs">Septin-11 (CTL ratio)</text>
<line x1="446.95" y1="627.3" x2="510.55" y2="627.3" stroke="#b58c96" stroke-width="1" stroke-dasharray="1.3 1.9"/>
<line x1="446.95" y1="629.5" x2="510.55" y2="629.5" stroke="#a9bcc0" stroke-width="1" stroke-dasharray="1.3 1.9"/>
<line x1="454" y1="608" x2="472.5" y2="608" stroke="#222" stroke-width="1.2"/>
<circle cx="463" cy="586.5" r="3.2" fill="#fff" stroke="#d0a070" stroke-width="0.9"/>
<circle cx="463" cy="602" r="3.2" fill="#fff" stroke="#5d8d92" stroke-width="0.9"/>
<circle cx="463" cy="637" r="3.2" fill="#fff" stroke="#3f5f88" stroke-width="0.9"/>
<line x1="482.5" y1="612.5" x2="502" y2="612.5" stroke="#222" stroke-width="1.2"/>
<circle cx="492.5" cy="590" r="3.1" fill="#454a5c"/>
<circle cx="486" cy="607.5" r="3.1" fill="#bd1230"/>
<circle cx="492.5" cy="612" r="2.85" fill="#fff" stroke="#c8822e" stroke-width="0.8"/>
<path d="M489.65 612A2.85 2.85 0 0 1 495.35 612Z" fill="#c8822e" stroke="#c8822e" stroke-width="0.8"/>
<circle cx="499" cy="611" r="3.1" fill="#4e1a52"/>
<circle cx="492.5" cy="644" r="2.85" fill="#fff" stroke="#1c4466" stroke-width="0.8"/>
<path d="M489.65 644A2.85 2.85 0 0 1 495.35 644Z" fill="#1c4466" stroke="#1c4466" stroke-width="0.8"/>
<text x="408.1" y="557.5" font-size="12.3" text-anchor="start" font-weight="bold" fill="#000" stroke="#000" stroke-width="0.3">J</text>
<rect x="0.55" y="0.55" width="518.9" height="682.9" fill="none" stroke="#363636" stroke-width="1.1"/>
</svg>
</body></html>
